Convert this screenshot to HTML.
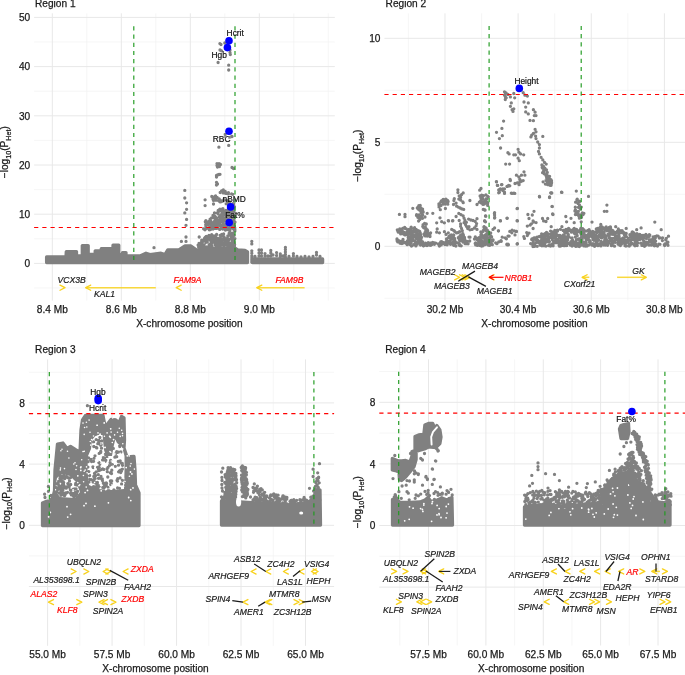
<!DOCTYPE html><html><head><meta charset="utf-8"><style>html,body{margin:0;padding:0;background:#fff;}svg{display:block;filter:grayscale(0.001)}.tk{font-family:"Liberation Sans", sans-serif;font-size:10.15px;fill:#1a1a1a;stroke:#1a1a1a;stroke-width:0.25px} .sub{font-size:7.2px} .g{font-family:"Liberation Sans", sans-serif;font-size:8.6px;font-style:italic;fill:#1a1a1a;stroke:#1a1a1a;stroke-width:0.2px} .gr{fill:#ff0000;stroke:#ff0000} .bl{font-family:"Liberation Sans", sans-serif;font-size:8.4px;fill:#111;stroke:#111;stroke-width:0.2px}</style></head><body><svg width="685" height="675" viewBox="0 0 685 675">
<line x1="34.1" x2="334.8" y1="288.00" y2="288.00" stroke="#f2f2f2" stroke-width="0.7"/>
<line x1="34.1" x2="334.8" y1="238.80" y2="238.80" stroke="#f2f2f2" stroke-width="0.7"/>
<line x1="34.1" x2="334.8" y1="189.60" y2="189.60" stroke="#f2f2f2" stroke-width="0.7"/>
<line x1="34.1" x2="334.8" y1="140.40" y2="140.40" stroke="#f2f2f2" stroke-width="0.7"/>
<line x1="34.1" x2="334.8" y1="91.20" y2="91.20" stroke="#f2f2f2" stroke-width="0.7"/>
<line x1="34.1" x2="334.8" y1="42.00" y2="42.00" stroke="#f2f2f2" stroke-width="0.7"/>
<line x1="86.80" x2="86.80" y1="13.3" y2="300.6" stroke="#f2f2f2" stroke-width="0.7"/>
<line x1="155.80" x2="155.80" y1="13.3" y2="300.6" stroke="#f2f2f2" stroke-width="0.7"/>
<line x1="224.80" x2="224.80" y1="13.3" y2="300.6" stroke="#f2f2f2" stroke-width="0.7"/>
<line x1="293.80" x2="293.80" y1="13.3" y2="300.6" stroke="#f2f2f2" stroke-width="0.7"/>
<line x1="328.30" x2="328.30" y1="13.3" y2="300.6" stroke="#f2f2f2" stroke-width="0.7"/>
<line x1="34.1" x2="334.8" y1="263.40" y2="263.40" stroke="#e8e8e8" stroke-width="1"/>
<line x1="34.1" x2="334.8" y1="214.20" y2="214.20" stroke="#e8e8e8" stroke-width="1"/>
<line x1="34.1" x2="334.8" y1="165.00" y2="165.00" stroke="#e8e8e8" stroke-width="1"/>
<line x1="34.1" x2="334.8" y1="115.80" y2="115.80" stroke="#e8e8e8" stroke-width="1"/>
<line x1="34.1" x2="334.8" y1="66.60" y2="66.60" stroke="#e8e8e8" stroke-width="1"/>
<line x1="34.1" x2="334.8" y1="17.40" y2="17.40" stroke="#e8e8e8" stroke-width="1"/>
<line x1="52.30" x2="52.30" y1="13.3" y2="300.6" stroke="#e8e8e8" stroke-width="1"/>
<line x1="121.30" x2="121.30" y1="13.3" y2="300.6" stroke="#e8e8e8" stroke-width="1"/>
<line x1="190.30" x2="190.30" y1="13.3" y2="300.6" stroke="#e8e8e8" stroke-width="1"/>
<line x1="259.30" x2="259.30" y1="13.3" y2="300.6" stroke="#e8e8e8" stroke-width="1"/>
<line x1="384.4" x2="685.5" y1="298.30" y2="298.30" stroke="#f2f2f2" stroke-width="0.7"/>
<line x1="384.4" x2="685.5" y1="194.30" y2="194.30" stroke="#f2f2f2" stroke-width="0.7"/>
<line x1="384.4" x2="685.5" y1="90.30" y2="90.30" stroke="#f2f2f2" stroke-width="0.7"/>
<line x1="408.40" x2="408.40" y1="13.3" y2="300.4" stroke="#f2f2f2" stroke-width="0.7"/>
<line x1="481.54" x2="481.54" y1="13.3" y2="300.4" stroke="#f2f2f2" stroke-width="0.7"/>
<line x1="554.68" x2="554.68" y1="13.3" y2="300.4" stroke="#f2f2f2" stroke-width="0.7"/>
<line x1="627.82" x2="627.82" y1="13.3" y2="300.4" stroke="#f2f2f2" stroke-width="0.7"/>
<line x1="384.4" x2="685.5" y1="246.30" y2="246.30" stroke="#e8e8e8" stroke-width="1"/>
<line x1="384.4" x2="685.5" y1="142.30" y2="142.30" stroke="#e8e8e8" stroke-width="1"/>
<line x1="384.4" x2="685.5" y1="38.30" y2="38.30" stroke="#e8e8e8" stroke-width="1"/>
<line x1="444.97" x2="444.97" y1="13.3" y2="300.4" stroke="#e8e8e8" stroke-width="1"/>
<line x1="518.11" x2="518.11" y1="13.3" y2="300.4" stroke="#e8e8e8" stroke-width="1"/>
<line x1="591.25" x2="591.25" y1="13.3" y2="300.4" stroke="#e8e8e8" stroke-width="1"/>
<line x1="664.39" x2="664.39" y1="13.3" y2="300.4" stroke="#e8e8e8" stroke-width="1"/>
<line x1="28.9" x2="334.1" y1="555.90" y2="555.90" stroke="#f2f2f2" stroke-width="0.7"/>
<line x1="28.9" x2="334.1" y1="494.70" y2="494.70" stroke="#f2f2f2" stroke-width="0.7"/>
<line x1="28.9" x2="334.1" y1="433.50" y2="433.50" stroke="#f2f2f2" stroke-width="0.7"/>
<line x1="28.9" x2="334.1" y1="372.30" y2="372.30" stroke="#f2f2f2" stroke-width="0.7"/>
<line x1="79.84" x2="79.84" y1="359.4" y2="645.8" stroke="#f2f2f2" stroke-width="0.7"/>
<line x1="144.31" x2="144.31" y1="359.4" y2="645.8" stroke="#f2f2f2" stroke-width="0.7"/>
<line x1="208.79" x2="208.79" y1="359.4" y2="645.8" stroke="#f2f2f2" stroke-width="0.7"/>
<line x1="273.26" x2="273.26" y1="359.4" y2="645.8" stroke="#f2f2f2" stroke-width="0.7"/>
<line x1="28.9" x2="334.1" y1="586.50" y2="586.50" stroke="#e8e8e8" stroke-width="1"/>
<line x1="28.9" x2="334.1" y1="525.30" y2="525.30" stroke="#e8e8e8" stroke-width="1"/>
<line x1="28.9" x2="334.1" y1="464.10" y2="464.10" stroke="#e8e8e8" stroke-width="1"/>
<line x1="28.9" x2="334.1" y1="402.90" y2="402.90" stroke="#e8e8e8" stroke-width="1"/>
<line x1="47.60" x2="47.60" y1="359.4" y2="645.8" stroke="#e8e8e8" stroke-width="1"/>
<line x1="112.07" x2="112.07" y1="359.4" y2="645.8" stroke="#e8e8e8" stroke-width="1"/>
<line x1="176.55" x2="176.55" y1="359.4" y2="645.8" stroke="#e8e8e8" stroke-width="1"/>
<line x1="241.02" x2="241.02" y1="359.4" y2="645.8" stroke="#e8e8e8" stroke-width="1"/>
<line x1="305.50" x2="305.50" y1="359.4" y2="645.8" stroke="#e8e8e8" stroke-width="1"/>
<line x1="379.3" x2="685.5" y1="556.30" y2="556.30" stroke="#f2f2f2" stroke-width="0.7"/>
<line x1="379.3" x2="685.5" y1="494.70" y2="494.70" stroke="#f2f2f2" stroke-width="0.7"/>
<line x1="379.3" x2="685.5" y1="433.10" y2="433.10" stroke="#f2f2f2" stroke-width="0.7"/>
<line x1="379.3" x2="685.5" y1="371.50" y2="371.50" stroke="#f2f2f2" stroke-width="0.7"/>
<line x1="399.81" x2="399.81" y1="359.4" y2="645.5" stroke="#f2f2f2" stroke-width="0.7"/>
<line x1="457.19" x2="457.19" y1="359.4" y2="645.5" stroke="#f2f2f2" stroke-width="0.7"/>
<line x1="514.56" x2="514.56" y1="359.4" y2="645.5" stroke="#f2f2f2" stroke-width="0.7"/>
<line x1="571.94" x2="571.94" y1="359.4" y2="645.5" stroke="#f2f2f2" stroke-width="0.7"/>
<line x1="629.31" x2="629.31" y1="359.4" y2="645.5" stroke="#f2f2f2" stroke-width="0.7"/>
<line x1="379.3" x2="685.5" y1="587.10" y2="587.10" stroke="#e8e8e8" stroke-width="1"/>
<line x1="379.3" x2="685.5" y1="525.50" y2="525.50" stroke="#e8e8e8" stroke-width="1"/>
<line x1="379.3" x2="685.5" y1="463.90" y2="463.90" stroke="#e8e8e8" stroke-width="1"/>
<line x1="379.3" x2="685.5" y1="402.30" y2="402.30" stroke="#e8e8e8" stroke-width="1"/>
<line x1="428.50" x2="428.50" y1="359.4" y2="645.5" stroke="#e8e8e8" stroke-width="1"/>
<line x1="485.88" x2="485.88" y1="359.4" y2="645.5" stroke="#e8e8e8" stroke-width="1"/>
<line x1="543.25" x2="543.25" y1="359.4" y2="645.5" stroke="#e8e8e8" stroke-width="1"/>
<line x1="600.62" x2="600.62" y1="359.4" y2="645.5" stroke="#e8e8e8" stroke-width="1"/>
<line x1="658.00" x2="658.00" y1="359.4" y2="645.5" stroke="#e8e8e8" stroke-width="1"/>
<polygon points="46.6,257.0 66.0,257.0 66.3,251.6 76.5,251.6 76.5,256.0 82.3,256.0 82.3,245.6 88.2,245.6 88.2,254.4 95.2,254.4 95.2,250.8 99.9,250.8 99.9,254.0 101.3,254.0 101.3,248.6 113.0,248.6 113.0,245.2 118.8,245.2 118.8,254.6 122.5,254.6 122.5,252.6 126.0,252.6 126.0,256.0 140.0,256.0 146.0,253.2 150.0,254.6 161.0,253.2 165.0,254.6 167.8,249.8 178.8,249.8 185.0,246.0 191.0,246.0 196.3,249.8 202.0,250.0 200.0,249.0 235.0,248.0 238.0,250.0 245.0,250.5 247.5,252.0 247.5,262.6 247.5,262.6 46.6,262.6" fill="#808080" stroke="#808080" stroke-width="3.30" stroke-linejoin="round"/><polygon points="252.5,259.0 322.6,259.0 322.6,262.6 252.5,262.6" fill="#808080" stroke="#808080" stroke-width="3.30" stroke-linejoin="round"/><path d="M259.0 250.0h0M259.0 253.0h0M259.0 256.0h0M261.5 250.0h0M261.5 253.0h0M261.5 256.0h0M265.0 253.6h0M265.0 256.0h0M270.8 250.5h0M270.8 253.0h0M270.8 256.0h0M276.6 252.6h0M276.6 255.5h0M280.3 254.0h0M280.3 256.5h0M285.4 247.3h0M285.4 249.5h0M285.4 252.0h0M285.4 254.5h0M285.4 257.0h0M293.4 253.6h0M293.4 256.0h0M316.5 252.4h0M316.5 255.0h0M251.8 241.3h0M251.8 243.9h0M251.8 250.8h0M251.8 253.2h0M251.8 256.0h0M251.8 258.0h0M251.8 260.0h0M251.8 262.0h0M255.0 256.5h0M268.0 256.0h0M273.0 255.0h0M283.0 256.0h0M289.0 256.5h0M297.0 256.5h0M301.0 257.0h0M305.0 256.5h0M309.0 257.0h0M313.0 256.5h0M320.0 256.5h0" stroke="#808080" stroke-width="3.30" stroke-linecap="round" fill="none"/><path d="M217.5 220.0h0M232.6 217.6h0M219.3 220.7h0M223.2 225.8h0M205.9 226.2h0M234.4 230.1h0M223.9 221.4h0M217.1 227.1h0M219.6 222.0h0M219.0 222.6h0M217.6 213.0h0M234.9 230.9h0M229.9 223.7h0M227.5 216.0h0M230.1 215.7h0M233.7 227.2h0M232.1 217.7h0M234.4 215.9h0M205.3 221.7h0M227.9 212.7h0M233.9 225.0h0M228.5 210.4h0M220.9 217.2h0M209.1 224.3h0M207.2 222.1h0M234.1 226.1h0M212.7 228.1h0M230.3 222.0h0M227.7 214.2h0M205.9 220.6h0M210.8 221.0h0M214.9 217.3h0M233.7 218.1h0M221.4 227.7h0M232.1 226.4h0M226.7 229.5h0M209.3 229.8h0M231.2 221.1h0M210.6 223.6h0M211.2 226.6h0M222.1 213.3h0M208.6 224.0h0M220.9 227.3h0M222.7 213.0h0M232.4 211.1h0M221.3 209.3h0M214.6 228.3h0M234.4 222.4h0M225.1 220.6h0M203.6 228.8h0M225.4 230.1h0M218.4 224.3h0M226.6 228.5h0M226.6 223.6h0M228.4 228.9h0M214.3 223.1h0M231.8 227.8h0M216.3 225.8h0M230.6 220.3h0M223.0 215.6h0M221.6 221.2h0M205.6 222.0h0M234.8 228.0h0M226.3 215.7h0M226.5 220.5h0M217.1 227.0h0M205.7 224.8h0M218.4 211.8h0M225.3 218.4h0M222.7 229.0h0M212.6 223.0h0M232.0 222.5h0M217.1 228.3h0M213.5 222.6h0M228.8 228.9h0M231.2 215.6h0M221.7 213.9h0M229.8 227.2h0M225.8 229.8h0M217.4 212.9h0M223.0 218.3h0M213.1 227.0h0M234.4 217.3h0M230.9 207.0h0M225.7 220.3h0M212.9 225.8h0M229.5 211.9h0M223.1 217.2h0M223.2 222.4h0M228.8 230.0h0M224.9 211.0h0M218.2 210.5h0M225.9 210.5h0M225.3 219.0h0M222.7 224.9h0M215.6 225.8h0M232.0 208.2h0M232.8 224.1h0M223.0 228.7h0M215.1 220.2h0M231.1 225.9h0M233.2 217.6h0M223.8 211.1h0M226.1 226.5h0M223.5 223.9h0M209.8 228.5h0M234.4 230.4h0M220.2 225.8h0M213.3 228.7h0M230.4 214.7h0M220.6 225.2h0M228.9 207.6h0M228.6 210.3h0M213.7 225.7h0M219.5 224.1h0M229.9 223.2h0M233.3 218.3h0M233.4 208.2h0M210.1 219.2h0M212.3 224.2h0M223.4 219.1h0M230.0 220.0h0M213.0 215.5h0M230.0 228.5h0M209.7 227.3h0M234.0 219.1h0M221.3 211.0h0M220.1 218.6h0M234.0 218.9h0M215.8 226.0h0M221.0 218.3h0M220.2 216.3h0M233.6 229.1h0M211.6 217.8h0M229.1 228.5h0M218.2 213.9h0M209.1 221.4h0M232.6 209.2h0M225.0 214.1h0M214.4 221.5h0M206.4 224.3h0M220.0 216.9h0M215.0 216.3h0M219.9 210.0h0M209.5 221.8h0M223.4 219.2h0M230.2 221.3h0M230.4 211.8h0M226.7 226.3h0M231.9 213.9h0M213.1 229.1h0M231.4 209.3h0M210.7 224.2h0M229.6 216.5h0M228.3 209.2h0M215.9 223.1h0M224.8 228.8h0M234.0 208.9h0M219.2 225.0h0M219.1 223.1h0M220.7 218.9h0M221.2 209.7h0M229.9 230.8h0M232.7 208.4h0M205.0 229.8h0M217.8 225.1h0M213.5 217.7h0M219.5 216.8h0M225.4 227.1h0M226.7 216.1h0M231.6 226.0h0M225.5 227.5h0M223.1 216.1h0M222.2 218.6h0M234.4 226.1h0M211.3 228.8h0M226.8 225.4h0M229.1 216.1h0M231.7 228.0h0M225.2 225.2h0M227.5 216.1h0M213.9 217.7h0M223.4 221.6h0M210.4 229.6h0M224.3 214.4h0M224.1 220.2h0M220.1 215.7h0M235.0 222.1h0M225.4 225.0h0M234.4 206.6h0M222.7 224.5h0M211.0 228.6h0M220.6 218.7h0M233.9 220.2h0M234.8 222.0h0M228.9 207.9h0M222.1 225.0h0M204.4 229.3h0M233.2 216.5h0M219.9 220.9h0M214.7 213.1h0M224.0 220.0h0M212.1 223.9h0M208.0 224.9h0M215.5 228.4h0M234.6 229.6h0M205.4 228.6h0M216.7 217.9h0M234.1 212.1h0M219.7 229.4h0M226.1 217.7h0M234.3 226.4h0M222.3 208.9h0M223.0 217.4h0M219.9 209.1h0M217.2 222.7h0M217.6 212.6h0M221.6 216.5h0M227.9 219.3h0M234.9 229.8h0M226.5 212.0h0M206.6 228.3h0M228.1 221.6h0M214.5 212.8h0M224.9 220.1h0M221.9 221.8h0M227.1 210.7h0M232.3 228.0h0M222.9 208.6h0M205.8 222.9h0M220.6 221.8h0M214.9 218.0h0M226.8 227.0h0M228.9 221.6h0M227.6 211.3h0" stroke="#808080" stroke-width="3.30" stroke-linecap="round" fill="none"/><path d="M215.3 244.2h0M222.5 235.4h0M207.8 246.8h0M223.4 243.2h0M218.4 244.2h0M202.9 240.5h0M203.6 248.4h0M199.7 246.9h0M200.3 244.7h0M210.1 239.9h0M229.1 233.3h0M199.8 248.6h0M216.6 234.5h0M234.5 249.1h0M201.7 240.2h0M220.8 235.8h0M223.6 233.9h0M203.9 246.9h0M212.5 240.1h0M219.8 241.1h0M224.7 249.4h0M234.1 244.3h0M210.9 239.2h0M223.4 244.5h0M211.1 241.7h0M227.9 241.5h0M198.6 247.0h0M213.6 241.8h0M205.8 240.3h0M212.1 246.1h0M201.3 242.3h0M204.2 244.8h0M210.4 243.8h0M205.3 237.8h0M215.4 249.3h0M215.5 249.3h0M203.8 248.7h0M211.2 236.2h0M225.6 248.5h0M226.4 238.8h0M199.0 243.5h0M234.4 250.0h0M209.6 246.4h0M228.7 243.9h0M206.1 242.0h0M215.4 243.7h0M207.4 249.1h0M231.0 235.8h0M208.4 247.8h0M207.9 249.0h0M216.8 244.8h0M223.9 236.6h0M208.2 237.3h0M223.1 244.8h0M202.4 248.1h0M213.3 237.1h0M213.8 249.7h0M218.5 243.6h0M232.0 249.4h0M226.0 240.1h0M219.6 248.3h0M227.1 242.9h0M210.5 239.3h0M225.1 242.6h0M198.1 245.1h0M231.4 246.6h0M231.2 248.5h0M217.6 246.4h0M211.7 234.7h0M210.7 238.3h0M232.5 244.7h0M217.8 243.6h0M202.2 242.1h0M223.8 239.7h0M206.7 239.9h0M209.6 244.6h0M209.2 244.8h0M226.0 244.2h0M232.6 239.2h0M214.1 236.0h0M222.5 238.8h0M206.4 238.6h0M232.9 233.1h0M211.0 237.8h0M205.1 240.4h0M205.8 248.6h0M216.3 244.9h0M203.6 240.9h0M220.2 247.3h0M206.9 240.8h0M229.6 247.1h0M206.0 242.1h0M226.0 239.7h0M222.8 244.3h0M234.0 242.4h0M223.0 239.0h0M225.0 238.5h0M216.2 239.1h0M209.0 235.3h0M206.0 242.3h0M227.6 237.9h0M232.6 243.2h0M212.1 247.8h0M231.1 238.5h0M202.2 243.9h0M229.1 243.3h0M226.9 240.0h0M220.7 237.5h0M212.8 239.5h0M211.9 239.8h0M227.8 235.9h0M205.2 237.3h0M233.9 241.9h0M199.5 247.2h0M230.3 247.0h0M211.0 245.5h0M209.0 235.3h0M229.9 247.2h0M205.4 248.0h0M203.6 245.2h0M208.6 236.2h0M204.4 238.3h0M229.8 243.3h0M201.3 244.6h0M217.6 240.6h0M217.3 244.1h0M227.5 241.6h0M221.3 240.9h0M221.3 239.6h0M213.1 241.8h0M224.3 237.7h0M232.2 241.4h0M229.6 244.7h0M233.4 244.6h0M213.5 239.9h0M220.3 245.8h0M229.0 235.2h0M201.7 244.6h0M220.6 249.4h0M233.5 245.7h0M233.1 233.5h0M206.0 248.7h0M215.3 236.5h0M225.9 240.2h0M217.9 238.4h0M220.3 249.2h0M234.5 246.0h0M232.5 239.2h0M208.7 248.7h0M220.0 244.4h0M215.6 245.4h0M228.5 245.9h0M210.2 239.5h0M229.8 249.8h0M215.7 236.3h0M220.9 242.1h0M211.1 236.9h0M212.0 243.4h0M202.3 242.2h0M233.2 245.7h0M207.0 240.1h0M201.3 245.5h0M221.2 235.9h0M218.1 243.1h0M219.1 239.4h0M209.1 239.0h0M234.9 238.6h0M216.3 240.8h0M204.0 239.8h0M205.2 238.5h0M211.3 238.9h0M232.7 238.0h0M210.0 244.2h0M212.4 241.8h0M221.8 234.3h0M222.7 234.7h0M206.9 246.8h0M234.6 244.5h0M203.9 240.5h0M208.1 247.3h0M206.2 236.3h0M221.4 243.8h0M219.6 241.1h0M233.5 240.8h0M232.6 239.7h0M215.0 239.1h0M224.3 245.8h0M206.5 241.9h0M224.7 241.5h0M222.3 243.5h0M224.3 239.0h0M230.9 246.4h0M212.1 249.4h0M231.3 235.6h0M228.9 240.2h0M209.3 237.4h0M209.0 235.7h0M202.1 247.1h0M211.7 241.3h0M220.0 248.9h0M229.8 248.5h0M232.4 242.0h0M211.3 236.2h0M231.6 246.0h0M218.2 246.5h0M207.3 242.1h0M231.5 234.8h0M220.7 236.2h0M228.9 247.3h0M221.7 240.4h0M211.0 239.8h0M200.4 248.6h0M217.1 242.5h0M229.1 248.2h0M218.1 242.2h0M229.3 239.3h0M231.3 233.4h0M227.4 242.0h0M220.8 249.8h0M205.7 239.9h0M227.5 245.7h0M217.2 246.2h0M222.9 247.8h0M221.9 239.2h0M234.1 235.4h0M220.1 235.3h0" stroke="#808080" stroke-width="3.30" stroke-linecap="round" fill="none"/><path d="M226.2 203.8h0M232.6 206.7h0M213.5 200.4h0M227.2 200.6h0M221.6 201.5h0M223.0 200.6h0M219.8 201.3h0M217.1 197.3h0M224.2 199.8h0M229.6 202.7h0M233.8 203.8h0M232.3 205.6h0M218.4 200.4h0M233.5 203.8h0M219.2 198.8h0M213.7 199.0h0M213.6 197.2h0M220.2 200.1h0M219.3 201.2h0M215.6 196.0h0M229.0 200.8h0M228.4 203.9h0M211.8 196.5h0M231.2 206.0h0M232.9 203.7h0M220.2 201.9h0M215.9 200.2h0M228.8 206.2h0M214.3 199.2h0M230.9 206.5h0M223.3 200.9h0M215.3 197.5h0M228.3 201.1h0M215.4 198.5h0M220.3 201.3h0M229.4 203.4h0M215.4 196.1h0M223.9 199.6h0M229.0 203.8h0M227.6 203.2h0M221.6 190.8h0M225.9 193.4h0M231.6 193.9h0M228.4 192.6h0M223.5 191.8h0M232.8 194.3h0M225.2 191.3h0M223.1 192.9h0M224.3 192.9h0M228.4 193.9h0M224.1 191.4h0M225.9 193.0h0M223.7 192.3h0M225.6 192.9h0" stroke="#808080" stroke-width="3.30" stroke-linecap="round" fill="none"/><path d="M184.8 190.4h0M184.8 198.0h0M186.6 202.8h0M186.6 209.3h0M184.8 212.9h0M186.6 219.4h0M186.0 225.3h0M186.0 237.0h0M186.0 241.4h0M154.0 247.7h0M199.2 237.0h0M181.4 241.4h0M205.1 199.8h0M205.1 205.6h0M213.0 199.0h0M213.5 204.0h0M223.3 190.0h0M224.5 191.5h0M220.2 192.5h0M217.0 163.6h0M219.0 163.6h0M220.4 164.5h0M217.0 165.5h0M219.5 166.5h0M217.5 167.0h0M216.5 177.0h0M217.5 175.0h0M219.0 174.5h0M220.0 174.3h0M216.5 175.5h0M216.5 182.3h0M217.5 184.0h0M216.5 185.0h0M232.0 167.5h0M233.5 168.5h0M219.9 43.6h0M221.0 44.5h0M224.8 43.0h0M220.0 50.0h0M221.5 50.8h0M230.0 50.0h0M230.0 52.6h0M230.3 54.5h0M218.1 62.5h0M228.7 65.2h0M228.7 70.0h0M218.9 147.2h0M228.7 145.4h0M225.2 134.3h0M231.9 136.5h0" stroke="#808080" stroke-width="3.30" stroke-linecap="round" fill="none"/>
<path d="M401.2 241.3h0M397.2 241.0h0M444.4 243.9h0M426.6 244.3h0M425.4 245.1h0M432.7 242.3h0M444.4 243.7h0M401.9 243.5h0M445.0 244.5h0M403.0 243.1h0M430.7 245.3h0M422.9 244.0h0M423.4 245.8h0M397.8 241.9h0M409.1 243.1h0M445.6 242.4h0M434.4 243.0h0M420.5 245.1h0M429.2 244.5h0M442.9 242.4h0M397.2 240.5h0M446.6 241.9h0M407.2 244.7h0M452.8 242.0h0M459.2 245.0h0M416.2 243.8h0M400.1 243.2h0M459.3 243.7h0M434.8 243.5h0M412.1 245.7h0M430.6 243.2h0M447.1 243.9h0M450.4 242.7h0M405.4 242.7h0M431.6 244.0h0M427.0 245.5h0M441.5 241.6h0M441.3 243.7h0M403.4 242.4h0M398.7 240.6h0M431.8 244.6h0M397.9 241.1h0M440.5 244.3h0M440.7 242.0h0M400.8 241.4h0M401.0 242.5h0M406.5 243.0h0M425.5 243.1h0M404.1 242.1h0M453.9 245.4h0M439.2 244.2h0M451.5 243.9h0M421.3 244.0h0M453.7 244.1h0M434.4 244.3h0M438.2 244.0h0M421.6 243.9h0M435.7 243.1h0M423.2 245.0h0M430.0 243.2h0M441.2 244.9h0M426.7 244.8h0M453.2 242.8h0M406.4 243.5h0M450.5 244.3h0M417.3 244.2h0M445.4 243.0h0M454.7 244.0h0M415.9 245.9h0M459.6 244.7h0M421.3 243.1h0M439.8 245.0h0M429.4 245.1h0M411.5 246.0h0M401.4 241.7h0M428.2 242.6h0M442.6 243.3h0" stroke="#808080" stroke-width="3.30" stroke-linecap="round" fill="none"/><path d="M413.8 232.2h0M406.0 228.6h0M411.9 234.8h0M406.4 233.8h0M397.8 231.2h0M401.4 231.0h0M410.4 233.8h0M408.5 234.0h0M404.2 228.0h0M407.2 232.7h0M402.5 229.0h0M407.4 233.9h0M416.8 234.0h0M402.7 228.4h0M399.8 228.8h0M411.3 228.5h0M403.4 233.9h0M404.7 227.5h0M401.3 230.1h0M408.5 231.6h0M404.7 228.3h0M409.2 229.8h0M404.6 234.8h0M418.1 234.8h0M405.6 234.8h0M400.7 233.9h0M411.9 234.7h0M403.7 232.2h0M401.1 231.5h0M397.3 229.8h0M411.3 230.7h0M399.2 231.5h0M398.4 232.2h0M418.1 231.0h0M412.0 233.3h0M401.5 230.7h0M397.8 231.3h0M413.6 231.0h0M414.3 228.9h0M411.7 230.8h0M407.0 232.0h0M402.2 231.4h0" stroke="#808080" stroke-width="3.30" stroke-linecap="round" fill="none"/><path d="M420.8 207.8h0M422.2 214.7h0M422.6 215.0h0M421.8 218.0h0M418.8 205.7h0M418.8 208.7h0M419.1 207.6h0M422.0 209.4h0M416.6 214.7h0M418.1 207.2h0M419.0 214.8h0M419.8 219.6h0M416.5 215.4h0M422.6 209.1h0M419.5 210.1h0M418.6 221.0h0M417.8 217.3h0M418.1 209.1h0M422.2 213.1h0M419.4 216.8h0M421.1 212.6h0M421.7 216.5h0M420.7 211.0h0M422.7 210.9h0M423.2 211.9h0M422.5 218.3h0M423.0 212.4h0M417.3 207.9h0M420.3 216.1h0M420.5 208.3h0M420.2 205.4h0" stroke="#808080" stroke-width="3.30" stroke-linecap="round" fill="none"/><path d="M424.6 223.3h0M426.3 224.0h0M425.3 227.0h0M429.9 234.9h0M422.8 226.4h0M423.1 224.6h0M423.7 227.7h0M423.9 234.1h0M425.7 232.9h0M426.1 228.7h0M424.6 235.5h0M425.8 228.6h0M425.2 235.9h0M428.5 233.7h0M427.1 229.6h0M430.0 236.6h0M424.6 234.1h0M424.3 228.1h0M427.5 235.2h0M425.8 230.7h0M427.3 236.1h0M427.5 231.2h0M425.1 232.3h0M427.6 230.5h0" stroke="#808080" stroke-width="3.30" stroke-linecap="round" fill="none"/><path d="M443.4 204.0h0M446.3 200.7h0M447.8 204.2h0M439.0 206.9h0M440.3 209.7h0M444.8 200.4h0M447.6 201.9h0M441.0 205.5h0M440.8 202.0h0M439.0 205.3h0M446.5 201.7h0M443.4 202.4h0M447.5 200.5h0M444.8 199.8h0M447.5 202.3h0M443.2 199.3h0M441.4 200.9h0M438.9 204.0h0M442.7 201.1h0" stroke="#808080" stroke-width="3.30" stroke-linecap="round" fill="none"/><path d="M399.4 214.4h0M405.0 214.4h0M405.0 216.7h0M412.8 208.3h0M432.8 213.3h0M425.0 217.0h0M427.2 213.3h0M440.0 217.8h0M441.7 221.7h0M444.4 222.8h0M436.7 222.8h0M448.3 220.6h0M452.8 220.6h0M437.2 228.9h0M436.7 232.2h0M439.4 232.8h0M444.4 231.7h0M446.1 234.4h0M430.6 232.8h0M439.4 246.1h0M397.0 238.9h0M401.0 243.0h0M403.0 239.5h0" stroke="#808080" stroke-width="3.30" stroke-linecap="round" fill="none"/><path d="M457.9 189.8h0M457.9 192.5h0M463.2 192.9h0M461.5 194.7h0M459.2 196.0h0M460.6 197.3h0M458.8 199.1h0M460.6 200.0h0M462.8 201.8h0M463.2 202.7h0M454.3 198.7h0M453.9 200.5h0M453.5 204.5h0M456.1 203.1h0M456.6 206.2h0M458.3 207.1h0M460.1 208.0h0M461.9 208.9h0M463.7 209.4h0M469.9 200.5h0M445.9 199.1h0M448.1 201.4h0M445.4 204.0h0M445.4 208.5h0M458.8 213.4h0M461.0 214.7h0M463.2 216.0h0M456.1 216.5h0M464.1 218.3h0M465.0 220.5h0M466.4 222.3h0M468.6 219.1h0M470.8 220.0h0M473.0 220.5h0M475.2 221.4h0M477.0 218.7h0M476.6 223.6h0M476.1 225.8h0M474.4 228.0h0M472.1 229.4h0M469.9 229.8h0M467.7 228.5h0M466.4 226.3h0M465.5 224.5h0M469.0 226.7h0M477.0 229.4h0M464.1 222.7h0M459.2 220.5h0M460.6 224.0h0M460.6 226.3h0M461.5 228.5h0M462.3 230.7h0M462.8 233.4h0M463.2 235.6h0M459.7 231.6h0M458.3 232.5h0M456.6 232.9h0M454.8 231.6h0M451.7 229.4h0M453.5 230.3h0M448.6 220.9h0M452.6 220.9h0M456.1 216.3h0M481.0 188.5h0M479.7 190.2h0M480.1 196.0h0M481.5 197.8h0M482.4 199.1h0M480.6 200.9h0M479.3 202.2h0M477.0 204.5h0M483.3 202.2h0M485.5 200.5h0M486.8 199.1h0M487.7 203.1h0M487.7 205.4h0M483.3 209.4h0M485.0 210.2h0M485.5 216.0h0M484.6 220.9h0M485.5 221.8h0M484.1 227.2h0M484.1 229.4h0M485.9 228.0h0M494.4 213.4h0M494.7 217.4h0M500.4 220.7h0M507.1 218.1h0M517.1 208.7h0M517.1 220.7h0M493.0 229.4h0M498.4 230.8h0M495.7 242.8h0M501.1 241.4h0M506.4 238.8h0M509.1 236.1h0M511.8 232.8h0M514.4 230.8h0M516.4 231.4h0M507.1 244.8h0M508.4 244.8h0M517.1 244.1h0M451.7 229.4h0M454.3 230.8h0M447.7 241.4h0M448.3 232.8h0" stroke="#808080" stroke-width="3.30" stroke-linecap="round" fill="none"/><path d="M484.0 202.3h0M484.4 201.5h0M485.9 198.9h0M485.6 201.8h0M480.9 202.0h0M484.2 203.0h0M485.8 201.6h0M484.3 203.9h0M481.2 197.4h0M484.6 201.7h0M486.7 202.1h0M483.8 203.7h0M480.9 198.1h0M486.9 202.1h0" stroke="#808080" stroke-width="3.30" stroke-linecap="round" fill="none"/><path d="M481.3 245.2h0M484.1 236.5h0M475.2 243.5h0M491.5 240.3h0M485.5 236.2h0M476.0 237.9h0M475.6 243.0h0M477.2 239.7h0M475.3 236.9h0M480.3 240.2h0M479.5 240.6h0M484.8 236.5h0M484.1 235.9h0M485.7 243.4h0M490.6 244.1h0M484.6 244.8h0M486.5 241.8h0M478.8 244.3h0M490.0 243.5h0M482.8 236.9h0M480.9 244.8h0M478.5 244.1h0M485.0 240.5h0M478.9 237.7h0M478.7 243.4h0M475.0 238.8h0M485.7 237.7h0M477.4 245.4h0M479.7 245.3h0M484.2 242.4h0M481.1 240.6h0M481.7 243.5h0M476.3 239.0h0M485.8 244.3h0M475.7 244.9h0M476.2 238.1h0M481.1 236.9h0M480.7 239.8h0M484.6 244.0h0M474.5 239.0h0M490.8 235.9h0M479.6 240.9h0M487.1 240.7h0M477.8 243.7h0M487.1 236.2h0M480.9 235.2h0M490.8 243.3h0M485.2 240.0h0M475.3 238.1h0M478.5 241.0h0M487.3 241.6h0" stroke="#808080" stroke-width="3.30" stroke-linecap="round" fill="none"/><path d="M449.7 236.6h0M446.5 239.0h0M458.3 237.7h0M454.3 240.3h0M451.2 238.0h0M459.2 239.6h0M465.1 243.7h0M462.3 240.9h0M453.1 243.1h0M463.6 237.8h0M451.0 239.4h0M454.1 238.2h0M454.6 238.5h0M446.7 240.2h0M462.9 242.1h0M469.0 237.1h0M460.7 234.9h0M449.4 241.4h0M450.5 235.5h0M465.4 241.2h0M461.8 240.0h0M467.0 241.4h0M455.9 246.0h0M459.1 237.0h0M453.5 244.5h0M464.1 240.0h0M461.1 237.8h0M451.3 234.8h0M462.4 239.9h0M466.5 242.1h0M455.8 242.4h0M453.1 239.0h0M463.8 240.5h0M465.2 241.5h0M447.1 244.8h0M454.1 239.2h0M447.8 242.8h0M453.7 235.5h0M470.0 237.2h0M451.6 238.8h0M455.0 242.5h0M464.5 237.4h0M454.9 240.3h0M466.4 242.5h0M447.4 242.8h0M451.2 235.3h0M453.1 237.2h0M466.7 243.7h0M448.3 237.8h0M459.4 237.2h0M469.7 241.0h0M452.0 235.5h0M459.9 240.8h0M464.8 239.4h0M460.1 245.7h0M449.0 236.5h0M460.7 235.5h0M463.3 235.1h0M453.6 243.3h0M461.2 245.8h0M459.7 236.9h0M449.2 237.2h0M457.6 242.8h0M453.6 234.8h0M446.7 241.6h0M468.1 243.8h0" stroke="#808080" stroke-width="3.30" stroke-linecap="round" fill="none"/><path d="M406.9 232.1h0M412.1 239.6h0M420.4 238.1h0M407.3 242.0h0M420.7 235.0h0M407.9 235.1h0M416.6 234.5h0M412.8 239.0h0M420.5 235.8h0M411.2 227.6h0M416.2 229.5h0M411.0 227.4h0M409.4 241.3h0M409.9 244.5h0M408.2 237.6h0M416.0 236.4h0M414.6 236.8h0M415.2 242.0h0M419.7 236.2h0M423.7 245.7h0M408.1 229.6h0M406.9 233.6h0M415.3 242.4h0M420.3 233.1h0M416.7 236.6h0M409.6 232.1h0M414.6 227.7h0M419.7 241.1h0M411.2 227.2h0M407.3 240.9h0M414.2 235.6h0M414.7 231.8h0M406.9 234.5h0M408.9 230.7h0M410.6 234.6h0M406.3 233.7h0M420.7 241.5h0M408.9 239.3h0M416.9 238.6h0M416.2 243.7h0M408.3 229.6h0M419.4 235.5h0M407.2 231.7h0M419.8 234.2h0M413.8 240.4h0M408.4 238.3h0M410.4 240.4h0M408.2 241.5h0M421.6 237.3h0M412.7 238.1h0M417.9 235.6h0M409.1 229.9h0M420.2 232.9h0M420.9 240.3h0M411.1 241.8h0M419.6 242.5h0M419.6 240.6h0M417.1 233.4h0M414.6 240.9h0M416.5 238.6h0M409.7 240.2h0M417.8 238.4h0M422.7 241.8h0M417.2 238.1h0M414.2 244.5h0M410.3 237.5h0M409.5 230.2h0M420.5 243.4h0M417.7 237.7h0M418.1 242.6h0M413.5 235.5h0M416.7 242.9h0M419.7 231.3h0M418.0 241.0h0M417.5 230.6h0M411.2 242.9h0M412.3 232.6h0M409.6 241.4h0M412.7 235.7h0M422.4 243.2h0M409.6 237.5h0M410.8 240.1h0M421.0 239.1h0M419.2 231.1h0M420.6 240.4h0" stroke="#808080" stroke-width="3.30" stroke-linecap="round" fill="none"/><path d="M504.5 91.8h0M504.5 95.2h0M506.2 97.8h0M507.9 94.4h0M510.4 96.9h0M513.8 93.5h0M514.7 97.8h0M505.3 99.5h0M511.3 102.9h0M510.4 106.3h0M512.1 109.7h0M513.8 108.8h0M513.0 111.4h0M506.0 93.0h0M505.5 97.0h0M523.2 92.7h0M524.9 95.2h0M527.4 96.1h0M524.0 102.0h0M528.3 102.9h0M525.7 107.1h0M525.7 111.9h0M528.3 113.9h0M530.0 120.4h0M533.4 109.7h0M535.1 112.2h0M534.3 115.6h0M533.4 120.7h0M536.0 115.6h0M503.6 121.1h0M501.9 128.4h0M496.5 132.3h0M502.3 135.7h0M499.4 138.6h0M500.6 148.0h0M507.9 152.7h0M509.1 153.9h0M513.8 154.8h0M515.5 154.8h0M518.1 149.3h0M518.9 152.2h0M520.6 153.9h0M523.7 154.8h0M518.1 158.2h0M519.3 160.7h0M505.7 164.1h0M509.6 164.1h0M516.4 175.2h0M518.9 176.9h0M521.5 175.2h0M524.0 171.8h0M524.9 175.2h0M519.8 179.5h0M517.2 182.9h0M521.5 181.2h0M510.1 179.5h0M496.5 181.7h0M497.7 185.4h0M501.9 184.6h0M507.0 186.3h0M508.7 185.4h0M500.2 188.8h0M502.8 188.8h0M499.4 192.2h0M504.5 192.2h0M511.3 193.1h0M513.8 193.1h0M535.1 129.3h0M536.0 131.8h0M533.4 133.5h0M531.7 135.2h0M530.9 136.9h0M535.6 136.1h0M542.8 136.4h0M536.0 138.6h0M537.7 142.0h0M539.4 144.6h0M539.4 148.0h0M538.5 151.4h0M539.4 153.9h0M541.1 157.3h0M542.8 159.9h0M544.5 162.4h0M546.2 164.1h0M541.9 165.0h0M551.3 193.1h0M549.6 197.0h0M539.4 196.5h0M561.5 192.2h0" stroke="#808080" stroke-width="3.30" stroke-linecap="round" fill="none"/><path d="M549.2 183.7h0M543.4 171.5h0M547.0 179.7h0M546.0 180.4h0M547.3 172.4h0M544.8 168.1h0M551.5 180.6h0M548.5 176.7h0M543.5 166.3h0M547.4 183.2h0M542.2 167.5h0M548.6 183.1h0M545.6 169.6h0M542.7 167.2h0M542.6 172.7h0M548.4 180.6h0M543.8 169.6h0M542.7 166.8h0M547.2 175.4h0M550.4 182.2h0M549.4 179.8h0M549.0 178.1h0M546.0 175.6h0M545.2 169.8h0M546.7 174.5h0M544.0 171.8h0M544.2 173.8h0M550.9 179.6h0M542.8 168.2h0M546.5 169.8h0M547.8 180.6h0M551.1 185.3h0M546.6 177.8h0M551.5 183.6h0M549.6 176.3h0M548.5 178.8h0M547.3 181.2h0M543.4 166.4h0M551.6 182.2h0M549.2 178.0h0M547.6 183.2h0M548.6 181.3h0" stroke="#808080" stroke-width="3.30" stroke-linecap="round" fill="none"/><path d="M496.4 181.8h0M497.3 185.3h0M501.6 184.7h0M498.7 189.9h0M500.4 189.3h0M502.8 190.5h0M504.5 188.8h0M498.7 192.8h0M504.5 193.4h0M507.4 186.4h0M509.8 185.8h0M512.1 193.4h0M514.8 193.4h0M510.4 180.6h0M515.0 183.5h0M518.5 182.9h0M520.3 181.8h0M523.2 180.6h0M519.1 184.7h0M543.1 181.8h0M545.4 184.1h0M547.7 184.7h0M550.1 185.3h0M550.7 192.8h0M539.6 196.9h0M549.5 197.5h0M552.2 206.6h0M553.0 214.5h0M484.7 209.8h0M485.8 216.2h0M484.7 220.9h0M484.1 226.7h0M484.7 229.0h0M494.6 212.7h0M494.6 215.0h0M494.6 218.0h0M500.4 220.9h0M507.1 218.3h0M517.4 208.3h0M517.4 220.9h0M494.6 227.9h0M498.5 230.8h0M509.8 231.4h0M512.1 230.2h0M516.2 231.4h0M515.0 234.9h0M508.0 236.1h0M505.1 237.8h0M502.2 237.2h0M501.0 240.7h0M498.7 241.9h0M496.9 243.7h0M506.9 244.2h0M508.0 244.2h0M517.4 243.7h0M527.9 214.5h0M532.3 215.0h0M534.0 211.3h0M529.0 218.5h0M533.1 220.9h0M533.7 222.0h0M536.1 222.6h0M531.4 223.8h0M530.2 225.0h0M527.3 226.1h0M533.1 228.5h0M542.5 218.5h0M543.6 220.9h0M546.0 221.5h0M547.7 218.5h0M551.2 226.7h0M526.7 232.6h0M527.9 234.3h0M529.0 233.1h0M527.3 235.5h0M523.8 236.6h0M524.4 238.4h0" stroke="#808080" stroke-width="3.30" stroke-linecap="round" fill="none"/><path d="M484.6 203.0h0M487.7 196.3h0M481.4 203.1h0M483.1 203.4h0M483.3 195.7h0M481.8 198.9h0M481.7 195.2h0M487.1 203.3h0M483.1 204.4h0M488.3 196.8h0M485.9 194.9h0M482.6 198.5h0M484.1 202.4h0" stroke="#808080" stroke-width="3.30" stroke-linecap="round" fill="none"/><path d="M483.9 242.1h0M480.8 242.4h0M483.6 238.2h0M489.5 245.4h0M488.9 234.2h0M482.5 245.9h0M484.2 243.5h0M487.8 230.7h0M485.5 234.8h0M488.6 232.1h0M487.5 237.9h0M483.5 243.1h0M486.8 242.9h0M492.6 241.0h0M489.1 240.4h0M482.2 241.1h0M493.1 240.0h0M489.3 242.7h0M488.2 245.1h0M490.4 237.5h0M488.9 234.5h0M487.6 239.6h0M486.0 228.5h0M480.5 237.6h0M487.3 234.3h0M482.4 245.3h0M486.4 231.1h0M490.2 242.2h0M486.3 234.5h0M481.3 245.8h0M483.3 236.4h0M485.9 243.4h0M490.8 240.6h0M481.4 233.9h0M482.6 236.7h0M491.6 236.9h0M492.3 244.7h0M486.1 236.5h0M483.0 231.4h0M489.2 242.6h0M484.5 229.1h0M484.4 229.4h0M481.9 235.2h0M486.7 236.7h0M490.7 232.9h0M490.6 243.2h0M490.3 236.7h0M486.2 239.4h0M488.1 232.2h0M489.8 241.2h0M489.6 240.5h0M489.4 234.3h0M481.6 246.0h0M480.8 231.9h0M483.7 230.1h0M487.8 239.2h0M486.7 237.5h0M480.4 245.5h0M482.7 243.8h0M486.3 241.7h0M487.6 241.4h0" stroke="#808080" stroke-width="3.30" stroke-linecap="round" fill="none"/><path d="M618.8 231.9h0M589.1 229.7h0M563.6 240.6h0M615.4 232.6h0M575.2 232.6h0M582.1 239.3h0M590.2 241.3h0M594.6 238.4h0M539.4 241.7h0M541.6 234.0h0M593.8 237.7h0M579.5 231.6h0M592.7 231.3h0M612.0 233.0h0M549.5 237.4h0M541.6 242.5h0M534.0 237.9h0M597.3 232.5h0M555.0 241.3h0M581.0 230.0h0M614.2 234.5h0M567.1 233.1h0M606.0 236.1h0M599.6 230.4h0M533.6 244.2h0M556.3 232.0h0M570.9 244.6h0M583.8 229.8h0M541.9 245.8h0M539.4 236.5h0M564.2 235.0h0M612.9 230.7h0M578.2 230.8h0M610.9 238.4h0M593.0 243.7h0M559.2 236.3h0M565.7 240.9h0M557.5 231.0h0M587.2 238.0h0M597.8 228.8h0M595.8 237.3h0M607.7 235.2h0M572.1 238.0h0M544.3 237.5h0M548.1 241.7h0M589.2 232.5h0M582.0 241.5h0M581.3 240.2h0M568.3 236.5h0M555.5 237.2h0M620.6 230.8h0M576.4 240.2h0M596.5 229.6h0M612.3 234.3h0M603.0 229.1h0M563.5 244.8h0M597.9 245.7h0M597.4 240.9h0M596.3 228.9h0M595.9 245.0h0M606.5 243.0h0M610.5 229.0h0M566.0 232.6h0M615.6 233.1h0M593.1 237.6h0M616.3 239.4h0M568.3 234.4h0M568.8 228.6h0M548.6 239.5h0M552.6 232.0h0M602.4 227.2h0M566.4 241.2h0M553.1 232.6h0M606.2 226.9h0M557.2 241.5h0M615.4 242.3h0M619.6 239.1h0M601.6 237.9h0M582.6 230.0h0M572.6 240.1h0M551.9 238.1h0M581.5 230.5h0M545.1 237.4h0M549.1 234.3h0M605.2 243.3h0M608.5 242.3h0M576.5 229.9h0M589.5 230.8h0M598.2 231.8h0M618.7 232.2h0M564.0 230.3h0M587.4 236.1h0M580.1 245.8h0M539.1 242.2h0M540.2 245.0h0M600.9 231.9h0M552.9 243.8h0M600.5 233.6h0M574.6 233.6h0M607.6 229.0h0M611.2 232.4h0M575.6 229.9h0M618.4 242.1h0M620.4 245.5h0M560.0 235.6h0M554.9 241.9h0M550.8 245.7h0M533.3 241.2h0M602.1 231.4h0M531.7 239.3h0M555.7 238.6h0M574.9 245.6h0M604.6 236.3h0M597.0 230.8h0M610.0 234.2h0M553.4 234.8h0M610.3 229.1h0M607.9 234.4h0M535.3 246.0h0M569.1 237.0h0M579.2 242.7h0M612.0 242.0h0M612.9 242.5h0M587.1 239.4h0M619.6 245.1h0M621.4 244.2h0M615.8 236.4h0M590.5 244.2h0M558.5 242.2h0M542.3 235.3h0M555.8 238.5h0M596.3 237.4h0M592.5 237.3h0M589.5 240.4h0M618.9 234.8h0M601.8 242.8h0M609.0 229.0h0M620.2 231.2h0M601.1 229.9h0M593.0 239.6h0M601.3 237.8h0M597.3 244.0h0M597.0 238.9h0M559.2 242.8h0M582.2 228.9h0M547.2 233.0h0M605.6 229.9h0M589.5 242.1h0M586.3 240.6h0M581.3 234.7h0M607.6 244.8h0M568.4 230.9h0M530.6 243.6h0M580.9 231.8h0M594.4 239.9h0M614.5 246.2h0M550.3 245.4h0M586.2 243.1h0M619.3 240.3h0M612.5 230.6h0M581.1 241.7h0M576.6 243.1h0M554.4 236.1h0M593.0 244.7h0M544.9 236.1h0M575.4 237.0h0M549.4 241.5h0M581.2 234.6h0M573.7 242.0h0M583.9 242.5h0M568.6 228.5h0M578.5 238.8h0M613.1 238.3h0M604.1 232.4h0M591.8 231.9h0M544.8 238.9h0M547.1 234.1h0M533.0 240.6h0M547.6 241.2h0M593.9 240.3h0M598.5 239.8h0M581.4 237.8h0M547.3 239.1h0M586.1 239.7h0M565.2 245.5h0M549.3 244.8h0M564.4 242.1h0M583.6 229.7h0M620.0 230.6h0M567.1 238.3h0M566.8 245.6h0M592.0 234.1h0M549.1 245.3h0M607.0 230.8h0M570.7 230.2h0M573.4 229.3h0M609.3 227.5h0M544.5 238.0h0M565.2 239.2h0M550.5 245.4h0M588.8 245.1h0M570.9 241.6h0M556.3 233.7h0M559.8 240.8h0M609.2 230.1h0M599.4 228.9h0M580.0 245.1h0M563.2 230.5h0M568.3 229.0h0M596.0 239.4h0M598.1 245.6h0M542.6 238.9h0M545.8 242.2h0M589.5 236.5h0M582.7 228.7h0M614.5 242.2h0M594.6 246.3h0M580.8 228.4h0M602.6 229.5h0M586.3 240.1h0M612.6 238.6h0M541.4 237.5h0M583.8 244.0h0M589.8 234.0h0M600.6 229.8h0M594.9 244.7h0M572.9 243.7h0M574.3 229.5h0M550.6 231.1h0M552.8 235.6h0M545.5 241.8h0M619.1 236.4h0M543.7 243.3h0M604.0 245.1h0M573.6 232.1h0M560.6 244.3h0M575.1 242.3h0M560.2 246.2h0M567.6 237.7h0M603.0 232.2h0M611.0 229.6h0M544.9 233.6h0M564.1 237.9h0M617.2 231.5h0M597.4 238.9h0M586.9 246.1h0M548.7 238.5h0M615.7 239.4h0M574.2 228.3h0M615.5 236.4h0M600.8 228.9h0M543.2 241.3h0M561.6 238.6h0M563.5 234.9h0M531.7 244.0h0M562.9 244.2h0M602.5 236.9h0M594.3 244.3h0M618.2 232.2h0M534.5 246.3h0M617.1 236.0h0M580.7 244.4h0M609.1 236.2h0M536.7 242.3h0M531.7 239.6h0M583.2 242.2h0M601.1 241.4h0M605.0 238.0h0M542.5 234.5h0M601.0 236.5h0M608.8 243.1h0M600.9 245.9h0M556.8 235.6h0M553.6 241.5h0M611.2 243.6h0M561.5 245.5h0M595.3 239.7h0M597.7 228.4h0M582.3 244.9h0M559.9 235.4h0M547.1 239.8h0M610.1 233.2h0M604.3 241.5h0M562.7 237.9h0M583.9 229.9h0M604.7 243.8h0M606.9 240.4h0M586.3 245.1h0M595.6 243.9h0M541.3 240.3h0M605.5 237.8h0M612.0 239.0h0M541.8 243.0h0M608.8 230.4h0M542.6 245.7h0M567.8 243.5h0M603.9 235.1h0M612.0 232.4h0M594.2 235.6h0M573.0 231.1h0M607.6 245.3h0M577.5 245.5h0M594.4 232.6h0M582.8 234.4h0M596.2 241.9h0M532.0 238.9h0M603.2 243.0h0M544.5 241.1h0M604.4 234.6h0M536.4 237.9h0M619.7 238.6h0M555.5 234.9h0M562.5 238.3h0M580.1 231.4h0M609.1 237.8h0M567.2 242.3h0M601.7 226.9h0M602.7 235.3h0M569.9 243.0h0M567.6 239.7h0M597.1 241.7h0M551.4 235.4h0M611.3 245.1h0M620.2 240.2h0M599.6 228.0h0M571.5 238.1h0M577.8 246.1h0M600.5 226.9h0M607.8 241.3h0M557.4 230.1h0M565.0 239.6h0M611.5 245.7h0M554.8 230.5h0M574.6 244.4h0M559.1 245.3h0M546.5 232.5h0M560.3 236.8h0M545.4 245.9h0M594.2 245.9h0M613.0 242.9h0M557.6 239.4h0M582.1 243.8h0M576.4 245.7h0M600.9 245.6h0M556.6 242.7h0M584.8 237.4h0M564.4 241.5h0M575.1 233.1h0M610.6 227.9h0M589.0 232.1h0M577.5 232.1h0M577.1 235.3h0M603.2 243.5h0M588.8 237.3h0M588.0 230.3h0M573.3 245.1h0M577.2 235.7h0M554.2 233.7h0M599.5 243.8h0M562.3 243.5h0M594.0 236.4h0M575.0 231.8h0M605.9 238.3h0M586.0 231.1h0M614.8 234.6h0M575.5 229.3h0M605.3 236.8h0M552.5 239.9h0M537.9 240.4h0M611.2 231.0h0M573.8 244.7h0M565.9 231.7h0M585.5 246.1h0M564.6 232.0h0M559.5 246.2h0M574.6 243.9h0M609.7 231.9h0M594.4 232.7h0M548.4 234.3h0M605.1 227.9h0M600.8 227.7h0M589.0 236.3h0M558.8 235.3h0M582.9 236.9h0M538.7 242.8h0M598.9 236.6h0M618.8 239.9h0M537.2 237.3h0M586.6 237.9h0M614.2 241.3h0M533.8 238.9h0M583.7 232.4h0M581.3 230.8h0M566.0 229.4h0M602.1 229.8h0M573.1 243.0h0M584.2 234.1h0M560.6 244.0h0M597.2 243.4h0M564.5 231.4h0M583.6 235.2h0M619.4 232.8h0M584.3 236.4h0M612.5 244.1h0M592.1 245.2h0M545.3 238.3h0M539.6 243.0h0M608.8 234.8h0M564.0 241.6h0M534.8 244.0h0M552.7 237.9h0M580.6 232.8h0M544.9 245.8h0M559.3 237.7h0M560.4 229.3h0M615.3 233.8h0M579.4 242.8h0M550.5 246.0h0M575.8 246.4h0M576.8 234.6h0M533.0 238.7h0M607.6 230.5h0M598.4 239.3h0M605.4 245.0h0M581.6 236.0h0M583.9 245.9h0M542.7 242.5h0M618.3 230.2h0M551.8 244.2h0M564.0 245.7h0M540.2 245.2h0M554.0 240.9h0M618.4 231.2h0M562.0 239.4h0M571.5 232.2h0M533.0 246.5h0M566.3 236.8h0M544.7 244.7h0M576.9 244.2h0M574.3 230.3h0M621.5 238.9h0M595.7 231.6h0M538.8 236.6h0M588.6 234.0h0M586.8 235.5h0M593.8 236.3h0M620.1 241.8h0M576.4 244.2h0M603.2 234.3h0M548.7 245.5h0M590.2 242.5h0M551.8 233.2h0M585.0 236.7h0M555.7 234.0h0M579.3 246.5h0M580.8 238.2h0M546.0 246.1h0M534.7 237.8h0M570.5 245.2h0M533.8 238.4h0M559.0 243.4h0M614.6 232.3h0M553.1 245.8h0M553.5 234.3h0M537.2 246.3h0M609.7 240.8h0M562.3 243.4h0M580.3 229.8h0M540.2 243.3h0M565.7 242.8h0M619.8 232.7h0M611.9 241.6h0M536.5 240.5h0M615.5 233.3h0M599.2 235.2h0M612.7 232.1h0M561.8 241.4h0M604.8 239.4h0M618.1 244.2h0M554.6 242.8h0M547.1 235.8h0M588.4 234.8h0M621.8 241.5h0M544.7 236.0h0M576.5 239.7h0M618.3 229.0h0M596.0 235.4h0M576.5 229.3h0M617.9 237.6h0M613.5 233.1h0M571.2 231.3h0M562.0 239.0h0M542.0 240.3h0M537.0 237.1h0M571.3 244.0h0M552.7 236.1h0M616.2 232.7h0M604.1 244.5h0M591.7 234.9h0M544.6 243.5h0M536.2 239.6h0M579.4 239.7h0M550.1 245.3h0M572.1 246.1h0M562.5 235.8h0M543.6 240.1h0M597.3 244.0h0M598.0 240.4h0M615.5 239.7h0" stroke="#808080" stroke-width="3.30" stroke-linecap="round" fill="none"/><path d="M662.4 240.6h0M655.3 237.9h0M639.7 239.5h0M634.2 245.0h0M647.4 243.6h0M643.8 243.9h0M654.9 245.7h0M650.6 241.6h0M639.8 234.4h0M635.6 240.4h0M637.0 233.6h0M664.6 245.6h0M653.1 236.8h0M651.5 244.7h0M632.2 243.5h0M658.1 236.1h0M640.0 235.1h0M629.8 240.1h0M645.9 234.5h0M635.2 243.4h0M622.8 232.6h0M634.3 238.0h0M623.9 240.4h0M625.6 236.7h0M637.2 245.6h0M649.3 234.7h0M635.6 237.9h0M648.6 236.6h0M654.3 240.6h0M644.5 246.3h0M643.7 235.4h0M659.3 238.1h0M629.9 244.7h0M632.5 234.7h0M664.3 244.7h0M655.6 244.1h0M641.0 237.5h0M660.0 244.3h0M627.7 241.5h0M652.4 242.3h0M630.9 242.8h0M662.6 237.8h0M630.3 245.1h0M628.3 238.5h0M652.8 239.1h0M654.5 245.0h0M646.5 242.2h0M641.3 238.7h0M644.9 241.9h0M637.5 242.7h0M625.9 246.0h0M649.5 240.9h0M647.4 242.8h0M636.1 239.7h0M642.2 235.4h0M649.8 235.1h0M642.8 239.3h0M649.2 239.6h0M645.5 243.1h0M630.3 236.4h0M652.0 239.6h0M633.8 233.8h0M654.4 245.8h0M632.4 231.8h0M648.7 235.4h0M637.7 242.9h0M649.2 236.4h0M655.6 241.1h0M640.9 236.8h0M622.0 230.6h0M655.0 245.1h0M631.6 237.4h0M650.1 240.0h0M646.7 236.6h0M623.6 243.0h0M667.9 242.2h0M624.8 240.0h0M667.2 242.3h0M648.9 245.1h0M656.8 235.9h0M625.7 235.9h0M646.3 238.4h0M637.2 235.9h0M665.0 243.9h0M625.4 235.2h0M648.6 242.3h0M626.4 236.6h0M635.4 244.0h0M657.5 246.1h0M641.9 245.4h0M623.2 238.0h0M637.1 240.2h0M637.1 236.5h0M635.2 235.0h0M640.8 243.2h0M655.1 241.8h0M650.2 240.4h0M627.2 240.4h0M627.9 240.5h0M644.2 245.4h0M622.3 230.9h0M646.7 243.2h0M650.6 240.8h0M633.9 233.0h0M635.2 241.7h0M643.6 237.8h0M666.3 238.4h0M645.8 245.2h0M640.9 238.4h0M637.3 239.5h0M632.0 232.5h0M624.0 232.6h0M635.0 245.8h0M653.3 237.9h0M629.3 246.0h0M628.8 245.9h0M643.4 237.3h0M667.4 244.0h0M634.2 237.0h0M651.4 245.2h0M626.1 242.9h0M649.2 245.1h0M622.3 232.8h0M638.7 239.4h0M665.7 239.8h0M625.0 245.7h0M660.3 237.8h0M651.8 242.6h0M658.8 244.1h0M654.7 236.6h0M668.0 245.3h0M635.6 239.6h0M630.7 240.8h0M625.6 236.1h0M638.2 236.8h0M633.1 239.6h0M643.6 243.1h0M643.3 240.4h0M634.3 236.0h0M629.9 234.7h0M668.5 236.2h0M626.8 241.5h0M635.2 235.5h0M626.2 233.5h0M635.6 238.9h0M652.9 239.2h0M631.4 239.1h0M652.6 243.7h0M645.3 235.4h0M623.8 239.7h0M638.8 235.6h0M624.4 234.8h0M629.2 243.8h0" stroke="#808080" stroke-width="3.30" stroke-linecap="round" fill="none"/><path d="M577.8 212.6h0M581.3 207.1h0M576.9 199.8h0M575.4 209.8h0M578.8 216.0h0M575.3 207.2h0M575.4 214.5h0M577.3 214.6h0M577.2 199.1h0M580.5 209.1h0M582.0 214.5h0M579.4 218.2h0M583.0 214.7h0M582.3 213.0h0M579.5 206.1h0M579.3 206.9h0M577.2 213.1h0M574.9 211.0h0M579.7 201.4h0M583.9 213.3h0M580.2 208.6h0M583.1 214.5h0M580.4 216.4h0M579.4 204.8h0M575.6 202.2h0M576.2 212.0h0M578.3 211.4h0M581.3 217.6h0M577.1 199.4h0M579.8 214.8h0M581.4 216.9h0M578.6 201.0h0M580.2 215.5h0M578.6 207.3h0M579.8 207.3h0M578.4 207.3h0M576.0 212.3h0M581.5 217.3h0M580.6 208.2h0M578.1 203.5h0M580.8 217.2h0" stroke="#808080" stroke-width="3.30" stroke-linecap="round" fill="none"/><path d="M561.9 192.4h0M576.3 191.1h0M588.5 196.4h0M551.8 192.9h0M552.1 206.4h0M552.6 213.9h0M606.9 205.1h0M604.3 211.3h0M606.9 211.3h0M592.0 222.1h0M654.8 222.1h0M565.8 216.5h0M566.6 221.8h0M571.0 218.3h0M561.9 226.7h0M574.2 222.7h0M581.2 221.8h0M600.8 224.4h0M610.4 227.0h0M615.7 226.7h0M626.2 228.4h0M636.7 229.7h0M641.1 227.9h0M661.2 229.7h0" stroke="#808080" stroke-width="3.30" stroke-linecap="round" fill="none"/>
<polygon points="42.5,525.5 42.5,503.0 46.0,501.5 50.0,501.0 53.0,497.0 54.5,491.0 55.0,470.0 57.5,444.0 62.9,443.0 67.0,448.5 70.5,446.5 76.0,450.0 80.0,452.0 81.0,430.0 82.5,420.0 85.5,415.5 103.0,415.5 105.0,426.0 107.5,424.0 111.0,419.5 116.0,420.0 119.0,423.0 121.5,416.5 124.0,418.0 124.5,440.0 124.0,448.0 127.0,457.0 134.0,456.5 135.0,470.0 135.5,485.0 139.0,493.0 139.0,525.5" fill="#808080" stroke="#808080" stroke-width="3.30" stroke-linejoin="round"/><polygon points="92.0,440.0 95.0,436.5 98.0,435.0 102.5,435.0 104.0,450.0 106.0,456.0 112.0,456.0 113.5,447.0 115.3,439.5 117.0,443.0 122.0,447.0 124.5,456.0 124.5,470.0 124.0,489.0 112.0,490.0 98.0,489.0 89.0,485.0 87.5,470.0 88.0,456.0 91.0,449.0" fill="#fff" stroke="none"/><path d="M102.3 479.0h0M105.8 460.2h0M96.2 471.8h0M96.9 488.4h0M96.5 487.9h0M91.0 459.5h0M108.0 487.3h0M118.7 452.1h0M110.9 482.2h0M94.0 480.0h0M117.6 488.0h0M95.6 475.6h0M104.4 487.6h0M122.4 480.3h0M98.0 488.1h0M93.5 486.7h0M117.5 452.4h0M90.7 459.8h0M98.1 485.5h0M101.7 440.9h0M115.3 466.3h0M120.9 452.0h0M92.9 466.8h0M119.5 488.3h0M101.5 448.2h0M98.5 478.3h0M122.4 469.1h0M97.9 487.1h0M109.5 465.4h0M102.4 480.4h0M99.4 443.8h0M100.7 452.4h0M93.6 442.0h0M113.3 448.4h0M119.5 470.8h0M118.6 471.8h0M89.7 479.3h0M88.5 457.8h0M118.5 465.2h0M121.1 463.1h0M116.1 456.8h0M100.1 470.1h0M105.3 454.4h0M116.7 456.7h0M122.3 463.3h0M102.8 487.4h0M107.2 456.4h0M110.1 462.7h0M98.3 468.7h0M104.4 457.8h0M100.2 478.3h0M100.7 445.3h0M95.1 478.4h0M99.2 453.4h0M96.8 447.9h0M97.4 482.3h0M105.2 461.3h0M106.6 483.5h0M93.6 461.3h0M94.5 473.5h0M95.9 482.8h0M108.5 489.4h0M121.5 471.1h0M112.4 464.6h0M91.6 461.6h0M116.7 451.7h0M99.6 466.5h0M111.7 480.9h0M99.5 486.1h0M117.5 481.1h0M108.0 467.4h0M88.1 461.7h0M94.0 458.3h0M93.8 446.5h0M110.4 481.0h0M101.0 476.3h0M91.3 479.6h0M104.3 487.9h0M98.7 440.5h0M120.1 477.9h0M119.7 445.8h0M119.6 470.8h0M97.8 443.7h0M107.3 471.7h0M106.0 485.2h0M95.0 455.8h0M117.7 478.7h0M114.9 457.2h0M89.6 475.5h0M93.8 476.4h0M98.7 442.0h0M94.3 487.0h0M111.8 470.2h0M101.6 469.3h0M96.3 447.4h0M98.8 462.5h0M98.3 474.6h0M103.8 469.4h0M119.8 446.6h0M93.2 467.5h0M98.6 470.7h0M99.9 437.5h0M120.7 472.5h0M96.2 439.6h0M97.5 467.3h0M113.9 489.8h0M87.9 467.1h0M96.9 485.7h0M110.7 484.6h0M95.6 483.0h0M120.2 460.8h0M117.0 480.3h0M111.5 473.6h0M120.5 470.2h0M110.3 472.8h0M94.6 477.9h0M121.6 484.0h0M101.1 444.7h0M102.7 468.8h0M122.5 465.3h0M111.2 483.5h0M106.2 483.0h0M88.8 471.6h0M118.3 461.4h0M97.3 483.6h0M89.0 482.1h0M88.4 471.6h0M103.5 483.5h0M93.1 482.1h0M107.1 468.7h0M100.8 451.3h0M103.2 457.6h0M104.3 485.9h0M110.6 460.5h0M115.5 453.8h0M99.9 463.8h0M107.8 477.0h0M111.0 472.2h0M102.6 459.9h0M103.3 482.9h0M106.2 485.6h0" stroke="#808080" stroke-width="3.30" stroke-linecap="round" fill="none"/><polygon points="57.0,478.0 62.0,474.0 70.0,476.0 76.0,482.0 80.0,492.0 75.0,498.0 60.0,497.0 55.0,490.0" fill="#fff" stroke="none"/><path d="M58.3 484.2h0M76.3 484.8h0M60.8 490.0h0M62.6 488.0h0M60.8 492.1h0M64.8 478.5h0M64.5 487.6h0M62.7 492.4h0M66.5 476.4h0M61.7 481.6h0M69.5 481.0h0M61.5 495.0h0M56.7 491.6h0M62.3 493.0h0M60.9 495.3h0M75.3 492.3h0M61.9 476.7h0M60.4 476.0h0M75.6 484.7h0M69.1 487.0h0M70.3 489.8h0M60.7 487.8h0M61.9 477.3h0M61.7 481.1h0M65.2 494.6h0M73.9 493.4h0M58.9 493.1h0M64.5 495.8h0M70.5 490.3h0M62.4 478.2h0M61.6 492.2h0M64.9 477.2h0M57.7 483.1h0M63.8 487.0h0M71.4 492.8h0M69.7 485.4h0M62.6 490.1h0M73.1 495.6h0M71.4 494.9h0M62.9 489.9h0M76.0 488.8h0M61.6 488.2h0M60.0 486.8h0M57.7 488.4h0M56.6 483.9h0M66.4 492.9h0M58.8 486.3h0M63.1 481.6h0M67.8 483.6h0M63.9 478.3h0M65.6 492.8h0M63.7 475.2h0M70.5 493.3h0M70.7 484.5h0M60.3 475.5h0M70.6 477.6h0M67.7 477.6h0M68.7 485.6h0M74.0 497.4h0M60.6 486.2h0M63.6 484.6h0M63.7 482.6h0M66.2 488.2h0M59.2 481.3h0M63.4 484.2h0M75.8 495.6h0M63.3 483.0h0M63.5 494.0h0M74.8 489.0h0M75.7 483.5h0M59.9 478.3h0M77.1 485.1h0M65.4 487.0h0M57.7 489.5h0M68.7 478.0h0M55.7 487.4h0M62.2 482.1h0M59.4 488.9h0M62.6 484.6h0M60.2 478.5h0M67.5 492.3h0M77.7 491.3h0M73.3 489.2h0M62.8 492.5h0M66.9 487.0h0M58.7 481.2h0M76.7 494.1h0" stroke="#808080" stroke-width="3.30" stroke-linecap="round" fill="none"/><path d="M83.4 475.5h0M123.9 483.6h0M68.9 458.0h0M75.0 462.7h0M109.9 451.6h0M103.9 447.5h0M99.6 435.3h0M87.1 472.7h0M95.7 437.1h0M90.3 441.5h0M95.2 468.5h0M93.5 436.0h0M83.0 423.1h0M101.0 457.9h0M122.5 435.8h0M117.5 432.3h0M96.9 425.3h0M110.8 452.2h0M109.1 488.7h0M79.8 484.7h0M104.4 436.2h0M101.0 463.3h0M86.2 487.1h0M121.6 486.3h0M110.4 437.4h0M111.3 461.0h0M118.4 454.5h0M60.9 450.8h0M77.8 482.6h0M122.8 443.8h0M114.6 434.9h0M95.8 468.8h0M121.7 430.3h0M92.1 453.9h0M90.7 445.1h0M123.6 486.6h0M125.0 481.5h0M107.1 432.9h0M101.0 466.3h0M108.9 456.7h0M64.5 468.6h0M76.6 465.7h0M97.3 425.3h0M97.8 461.4h0M84.2 471.3h0M103.6 455.0h0M122.5 433.4h0M62.0 449.2h0M111.8 485.0h0M98.0 432.9h0M117.5 418.4h0M100.4 458.3h0M100.9 444.0h0M130.3 466.1h0M119.3 428.3h0M120.2 436.4h0M84.3 451.2h0M113.1 466.1h0M76.0 469.5h0M131.0 463.6h0M111.1 432.1h0M107.4 463.7h0M134.4 469.1h0M92.0 457.0h0M94.6 482.5h0M73.8 464.0h0M81.7 459.8h0M123.7 478.3h0M116.4 473.9h0M91.6 439.6h0M86.4 422.3h0M120.2 453.3h0M84.2 434.4h0M86.5 466.9h0M83.0 451.6h0M112.7 418.0h0M117.2 475.9h0M112.3 442.5h0M83.6 481.7h0M60.3 469.9h0M129.4 476.2h0M89.1 420.1h0M84.6 427.5h0M85.2 470.1h0M67.5 451.3h0M60.5 468.1h0M90.0 432.3h0M81.0 466.7h0M129.2 455.9h0M86.8 427.0h0" stroke="#fff" stroke-width="1.60" stroke-linecap="round" fill="none"/><path d="M131.9 473.9h0M94.8 467.5h0M80.8 470.4h0M114.8 454.0h0M104.2 422.9h0M133.0 487.9h0M94.9 506.2h0M122.6 449.0h0M108.4 502.8h0M79.0 485.6h0M110.7 428.8h0M113.6 439.6h0M70.6 514.3h0M84.0 505.7h0M130.5 472.0h0M109.7 436.4h0M130.7 489.7h0M128.7 497.5h0M100.1 434.2h0M88.6 473.8h0M67.7 517.1h0M50.3 512.4h0M48.6 516.8h0M101.2 490.8h0M80.7 467.6h0M105.1 447.4h0M73.1 489.9h0M86.0 503.4h0M85.1 492.6h0M94.1 443.9h0M77.8 475.8h0M87.5 490.4h0M105.7 489.5h0M67.0 506.7h0M127.3 455.8h0M126.2 467.6h0M106.8 488.8h0M104.3 462.3h0M100.7 485.4h0M130.8 500.6h0" stroke="#fff" stroke-width="1.80" stroke-linecap="round" fill="none"/><polygon points="221.5,525.0 221.5,501.0 240.0,502.0 260.0,503.0 290.0,505.0 310.0,503.0 316.0,495.0 320.0,490.0 320.5,525.0" fill="#808080" stroke="#808080" stroke-width="3.30" stroke-linejoin="round"/><path d="M226.8 485.1h0M232.4 476.1h0M226.7 491.8h0M232.2 472.9h0M231.6 489.2h0M233.3 493.4h0M236.4 488.8h0M236.7 482.8h0M227.8 496.6h0M227.8 471.7h0M226.1 484.2h0M235.9 478.3h0M227.6 482.9h0M231.9 487.9h0M233.1 469.1h0M233.2 472.3h0M230.7 484.0h0M225.9 487.5h0M231.6 474.6h0M234.0 471.6h0M234.6 484.3h0M226.3 475.8h0M236.6 488.5h0M231.9 489.7h0M226.5 484.0h0M235.5 476.6h0M230.0 499.0h0M235.9 476.8h0M231.4 494.1h0M233.5 486.4h0M228.0 497.8h0M231.5 496.0h0M236.0 489.2h0M230.5 488.5h0M226.6 478.2h0M224.9 495.7h0M230.8 475.9h0M236.1 491.5h0M230.1 482.6h0M228.4 482.4h0M232.9 488.5h0M228.4 496.0h0M225.4 498.2h0M233.9 472.5h0M233.3 497.8h0M232.9 479.8h0M234.8 486.2h0M230.0 494.3h0M230.4 497.5h0M231.0 471.1h0M233.2 469.6h0M227.5 493.5h0M232.5 471.0h0M224.9 482.9h0M230.1 479.2h0M229.8 488.2h0M228.1 486.0h0M226.6 490.4h0M234.4 493.9h0M226.7 497.8h0M234.0 494.3h0M230.4 487.7h0M225.5 497.8h0M225.1 482.5h0M227.0 498.8h0M231.5 480.2h0M231.6 490.5h0M225.3 477.1h0M229.0 486.9h0M225.7 487.3h0M230.3 489.0h0M229.7 469.2h0M231.2 469.3h0M229.4 470.0h0M235.7 486.6h0M229.1 474.3h0M228.8 476.2h0M234.8 484.5h0M228.4 474.9h0M233.3 474.7h0M236.0 489.8h0M232.1 471.3h0M236.5 479.6h0M233.0 494.4h0M236.0 475.4h0M226.5 489.6h0M232.6 497.2h0M226.1 475.4h0M226.7 477.4h0M224.7 482.4h0M235.5 496.7h0M228.2 480.2h0M226.7 483.7h0M234.0 489.0h0M225.4 475.9h0M229.0 481.5h0M235.9 473.3h0M234.9 475.3h0M234.7 494.0h0M226.8 490.5h0M232.8 494.7h0M231.1 480.3h0M235.5 476.8h0M229.0 497.4h0M226.4 483.2h0M232.5 475.7h0M224.8 492.5h0M232.9 488.4h0M228.1 487.9h0M230.7 496.3h0M235.1 496.5h0M228.1 469.3h0M230.8 493.8h0M229.1 490.3h0M234.6 474.6h0M226.7 494.9h0M226.7 476.0h0M227.1 485.6h0M233.3 492.5h0M225.0 494.2h0M232.9 478.3h0M229.3 476.7h0M235.8 494.1h0M231.0 495.5h0M228.8 479.2h0M229.1 483.2h0M233.9 479.8h0M235.5 491.8h0M235.6 475.5h0M235.8 490.5h0M228.0 490.3h0M232.1 482.0h0M227.7 470.7h0M227.3 498.5h0M236.3 480.4h0M228.3 485.5h0M231.8 488.0h0M226.0 484.1h0M234.7 488.3h0M229.9 475.4h0M235.4 475.9h0M235.8 494.5h0M235.4 475.9h0M228.7 485.4h0M236.6 483.1h0M230.9 494.4h0M227.9 486.6h0M229.6 489.9h0M229.0 473.1h0M232.3 485.5h0M231.3 496.7h0M231.5 496.9h0M230.1 483.5h0M229.6 494.7h0M233.5 497.4h0M234.8 469.7h0M226.7 488.7h0M234.3 474.4h0M227.3 481.3h0M235.7 492.1h0M234.7 490.3h0M231.6 487.8h0M229.7 494.6h0M236.2 487.9h0M230.6 467.7h0M230.1 488.8h0M227.2 472.3h0M229.5 492.7h0M232.2 476.1h0M232.1 485.0h0M227.3 472.9h0M234.0 496.0h0M236.2 486.4h0M226.2 488.4h0M228.1 467.7h0M231.9 497.4h0M225.9 481.9h0M225.1 474.7h0M226.7 478.7h0M232.5 496.0h0M236.0 490.5h0M230.8 470.2h0" stroke="#808080" stroke-width="3.30" stroke-linecap="round" fill="none"/><path d="M241.5 479.5h0M244.9 482.9h0M242.6 475.6h0M243.2 490.1h0M245.3 489.7h0M245.9 474.5h0M247.0 484.3h0M245.3 473.5h0M243.2 496.1h0M246.4 496.1h0M242.8 468.7h0M246.5 482.8h0M245.0 468.0h0M242.5 491.8h0M241.4 479.6h0M246.1 485.5h0M241.2 467.6h0M245.0 471.3h0M245.8 480.8h0M245.3 474.4h0M243.2 496.3h0M247.3 494.8h0M243.4 474.9h0M246.6 491.5h0M245.0 494.6h0M241.8 482.1h0M242.2 484.1h0M241.5 475.2h0M245.4 483.1h0M245.4 490.1h0M247.5 493.9h0M246.0 475.3h0M245.2 484.0h0M242.4 479.4h0M244.5 477.7h0M243.0 479.7h0M242.7 485.0h0M242.4 466.0h0M247.9 489.5h0M244.0 490.5h0M245.5 468.7h0M242.6 480.5h0M244.7 476.5h0M243.7 474.1h0M242.3 487.1h0M241.5 478.2h0M241.7 490.1h0M244.6 467.5h0M244.9 492.0h0M247.0 495.3h0M242.4 496.6h0M241.6 466.8h0M244.8 485.6h0M242.7 481.6h0M242.6 487.1h0M245.4 474.9h0M244.3 494.4h0M244.6 486.6h0M244.1 484.7h0M245.9 493.4h0M245.2 477.7h0M243.9 488.3h0M242.0 481.2h0M241.7 470.5h0M246.1 478.7h0M245.6 467.7h0M242.0 487.6h0M245.7 497.9h0M246.6 479.5h0M242.8 479.8h0M244.6 493.4h0M246.7 488.4h0M244.6 487.1h0M245.4 482.4h0M243.7 476.2h0M243.9 490.6h0M243.7 479.2h0M245.7 471.6h0M245.3 485.0h0M241.8 480.7h0M242.1 482.9h0M246.3 482.3h0M244.1 469.4h0M244.8 474.4h0M243.2 486.2h0M246.1 488.5h0M246.4 474.8h0M245.5 496.4h0M246.9 481.6h0M244.7 469.5h0M242.8 471.9h0M246.5 472.4h0M245.2 496.9h0M244.1 494.3h0M247.3 492.1h0M247.3 483.2h0" stroke="#808080" stroke-width="3.30" stroke-linecap="round" fill="none"/><path d="M230.8 499.9h0M221.5 496.9h0M235.6 497.2h0M231.3 498.6h0M235.5 500.1h0M226.0 496.9h0M225.8 501.1h0M235.9 500.6h0M223.4 500.3h0M224.8 500.8h0M225.1 497.2h0M223.7 501.5h0M224.6 496.7h0M223.1 497.9h0M227.7 497.1h0M230.5 502.0h0M233.4 500.1h0M223.5 499.9h0M230.0 497.2h0M233.8 497.2h0M232.0 500.2h0M231.1 501.5h0M224.2 497.8h0M231.6 500.6h0M228.6 499.7h0M226.4 501.0h0M232.7 496.0h0M234.8 501.3h0M222.1 500.5h0M234.9 497.8h0M226.0 501.5h0M231.2 501.4h0M232.4 497.7h0M231.6 501.6h0M222.4 497.9h0M224.0 497.2h0" stroke="#808080" stroke-width="3.30" stroke-linecap="round" fill="none"/><path d="M265.3 497.9h0M266.6 496.7h0M278.1 495.2h0M318.3 487.4h0M293.8 499.7h0M267.6 501.4h0M265.8 499.1h0M291.5 500.5h0M262.3 489.9h0M318.0 480.4h0M279.7 500.9h0M271.1 499.3h0M290.8 500.6h0M317.9 499.5h0M314.1 501.2h0M277.5 499.0h0M283.2 495.8h0M260.6 498.1h0M277.7 503.4h0M255.3 489.5h0M282.7 503.0h0M285.1 500.5h0M295.2 504.5h0M282.6 497.1h0M270.6 500.2h0M273.1 499.8h0M279.6 503.4h0M275.6 498.0h0M290.0 501.3h0M284.6 503.4h0M256.6 487.9h0M260.0 491.8h0M317.0 480.6h0M257.8 492.6h0M319.8 500.1h0M263.6 499.8h0M304.6 499.5h0M311.5 504.1h0M286.9 504.0h0M297.8 503.8h0M303.6 504.3h0M292.5 500.6h0M280.4 499.1h0M312.4 496.7h0M263.8 494.2h0M259.5 499.9h0M307.1 501.1h0M316.7 494.8h0M317.7 504.1h0M272.2 495.2h0M306.6 501.4h0M315.9 482.8h0M265.4 500.7h0M306.5 500.1h0M270.0 503.6h0M262.5 495.0h0M279.1 498.7h0M286.9 497.5h0M276.9 500.8h0M290.9 501.5h0M262.2 503.4h0M264.8 495.8h0M317.2 484.9h0M274.1 496.5h0M279.2 499.0h0M267.2 503.4h0M315.4 486.4h0M264.9 497.2h0M295.0 503.0h0M279.6 500.6h0M318.3 488.6h0M264.0 501.6h0M257.7 490.9h0M269.5 503.3h0M300.7 501.3h0M282.8 498.7h0M304.1 503.2h0M317.2 499.6h0M276.7 502.1h0M262.7 499.5h0M273.6 504.7h0M275.6 502.5h0M304.6 502.4h0M269.4 501.6h0M292.9 503.7h0M272.7 501.6h0M283.2 504.5h0M300.5 503.5h0M278.3 502.8h0M256.7 500.9h0M278.0 498.3h0M317.1 490.2h0M270.7 499.2h0M291.4 504.4h0M274.6 504.9h0M319.3 496.3h0M315.2 489.2h0M310.8 497.2h0M304.4 498.7h0M317.4 501.8h0M313.6 491.0h0M256.4 500.2h0M256.6 500.8h0M319.2 482.8h0M270.3 495.8h0M266.7 496.0h0M256.8 487.9h0M262.5 493.8h0M261.0 488.6h0M253.7 490.9h0M315.1 497.7h0M309.2 503.3h0M318.3 503.2h0M253.0 499.9h0M318.6 477.7h0M294.9 501.0h0M315.1 492.8h0M282.9 496.0h0M300.8 501.5h0M259.9 489.2h0M316.5 490.9h0M318.6 477.2h0M276.1 494.9h0M301.7 503.9h0M281.4 499.2h0M270.5 503.4h0M262.4 494.2h0M296.7 500.3h0M255.4 490.6h0M270.0 497.9h0M308.7 501.7h0M259.8 490.3h0M297.7 503.6h0M277.3 499.3h0M316.8 492.6h0M278.9 502.3h0M271.0 495.6h0M302.5 500.0h0M317.7 502.9h0M317.1 501.9h0M315.9 481.9h0M253.0 487.5h0M318.5 491.8h0M265.2 498.3h0M264.1 497.2h0M261.1 500.0h0M286.8 499.1h0M304.6 500.5h0M314.5 494.4h0M257.4 486.1h0M308.0 501.8h0M270.8 494.8h0M260.4 502.7h0M318.0 503.3h0M316.1 502.2h0M269.0 502.8h0M254.3 483.9h0M266.6 500.8h0M254.0 499.0h0M277.7 502.1h0M264.7 492.3h0M311.1 499.2h0M291.1 500.4h0M256.9 497.6h0M262.0 499.8h0M255.0 488.4h0M255.0 488.1h0M293.8 500.7h0M257.6 503.7h0M304.1 499.5h0M259.3 494.5h0M253.5 492.3h0M253.3 500.3h0M269.5 497.9h0M314.6 491.2h0M255.2 497.1h0M264.2 501.6h0M285.5 497.2h0M287.9 504.9h0M312.9 496.5h0M309.7 500.9h0M258.4 501.5h0M257.3 498.8h0M256.1 500.6h0M316.9 478.6h0M277.5 501.4h0M273.8 494.0h0M257.1 501.7h0M315.9 490.1h0M314.1 495.2h0M305.2 500.1h0M304.1 497.5h0M282.8 504.0h0M299.6 503.1h0M311.0 502.4h0M256.1 504.8h0M299.9 499.7h0M315.5 489.4h0M256.3 501.8h0M290.6 503.4h0M285.3 501.2h0M260.2 496.8h0M306.0 503.8h0M276.5 496.0h0M283.3 499.1h0" stroke="#808080" stroke-width="3.30" stroke-linecap="round" fill="none"/><ellipse cx="238.6" cy="502" rx="2.6" ry="4.5" fill="#fff"/><ellipse cx="301.2" cy="513" rx="2" ry="1.5" fill="#fff"/><path d="M221.5 472.0h0M222.0 480.5h0M221.8 484.5h0M222.0 488.0h0M222.5 491.0h0M250.5 497.0h0M44.6 494.2h0M48.4 486.4h0M48.4 491.3h0M45.0 497.5h0M51.0 495.5h0M87.4 405.7h0M222.8 468.2h0M221.9 477.4h0M319.5 463.7h0M317.7 472.8h0M313.1 469.2h0M313.1 476.5h0M309.5 488.3h0" stroke="#808080" stroke-width="3.30" stroke-linecap="round" fill="none"/>
<polygon points="392.5,525.0 392.5,499.5 396.0,498.0 400.0,502.5 410.0,502.5 420.0,502.0 425.0,500.0 428.0,497.5 431.0,501.5 437.0,500.0 442.0,498.0 447.0,500.0 451.9,497.5 452.5,525.0" fill="#808080" stroke="#808080" stroke-width="3.30" stroke-linejoin="round"/><path d="M422.4 509.4h0M441.0 517.5h0M439.2 508.6h0M448.4 504.1h0M439.1 514.7h0M404.7 520.8h0M432.5 501.6h0M437.0 514.9h0M431.6 521.3h0M446.2 506.5h0M432.0 503.5h0M423.8 505.1h0M423.9 503.6h0M420.6 508.6h0M409.2 519.3h0M447.0 513.1h0M439.0 513.6h0M437.1 505.4h0M409.5 506.8h0M422.9 511.4h0M446.1 517.8h0M413.1 508.2h0" stroke="#fff" stroke-width="1.80" stroke-linecap="round" fill="none"/><path d="M440.1 494.4h0M448.6 492.4h0M426.7 494.4h0M438.0 495.3h0M427.8 498.0h0M437.7 492.6h0M434.4 499.3h0M447.0 490.6h0M428.1 493.1h0M420.7 494.1h0M394.3 497.0h0M441.4 497.8h0M409.2 499.8h0M429.5 495.6h0M434.0 493.5h0M396.8 497.9h0M408.3 493.2h0M395.2 494.6h0M397.3 498.3h0M442.3 493.1h0M450.8 499.8h0M448.4 491.8h0M449.1 498.4h0" stroke="#808080" stroke-width="3.30" stroke-linecap="round" fill="none"/><polygon points="392.3,458.5 398.5,461.0 401.6,461.0 405.7,460.5 409.9,462.0 412.0,456.0 412.0,451.5 415.0,450.5 415.0,436.5 419.2,434.8 423.9,433.8 424.9,425.0 428.5,423.4 432.7,423.4 434.7,428.0 436.8,425.5 439.9,430.0 441.0,437.0 439.9,443.5 435.8,447.5 431.0,447.0 428.5,447.0 424.4,449.0 419.2,450.5 416.1,451.5 416.1,459.6 414.0,466.8 409.9,472.0 405.7,477.0 401.6,480.5 399.5,480.0 399.0,472.0 396.4,471.0 392.3,470.0" fill="#808080" stroke="#808080" stroke-width="3.30" stroke-linejoin="round"/><path d="M437 427.3L433 432L431.2 437L431.6 444.5" stroke="#fff" stroke-width="1.9" stroke-linecap="round" fill="none"/><path d="M393.0 478.6h0M394.8 455.5h0M410.5 453.5h0M424.5 453.5h0M420.8 458.5h0M422.5 460.0h0M435.8 461.1h0M432.5 469.2h0M436.5 448.6h0M438.3 450.7h0M414.5 471.0h0M416.0 472.8h0M418.3 474.5h0M426.0 476.5h0M427.5 479.0h0M407.0 480.6h0M409.5 481.0h0M414.3 480.0h0M434.3 479.3h0M414.3 473.8h0M418.4 473.8h0M425.8 477.1h0M427.4 479.5h0M432.3 484.4h0M433.9 479.5h0M422.5 485.2h0M402.1 486.0h0M406.2 485.2h0M407.0 491.7h0M409.5 481.1h0M414.3 482.0h0M425.0 491.4h0M428.2 490.4h0M435.5 491.7h0M440.4 486.9h0M442.1 494.2h0M446.1 494.2h0M451.0 489.3h0M452.2 495.0h0M432.3 468.9h0M435.5 460.8h0M437.2 449.3h0M438.0 451.0h0M416.0 495.0h0M418.4 495.8h0M415.2 498.3h0M398.9 491.7h0M395.6 495.8h0M401.3 498.3h0" stroke="#808080" stroke-width="3.30" stroke-linecap="round" fill="none"/><polygon points="524.5,525.0 524.5,507.0 540.0,505.0 560.0,506.0 580.0,505.0 600.0,503.0 604.8,488.0 611.3,479.5 620.1,475.0 628.9,471.0 633.2,477.0 637.6,481.5 643.0,484.0 648.6,491.0 653.0,497.0 657.3,502.0 665.0,503.0 670.0,503.0 670.0,525.0" fill="#808080" stroke="#808080" stroke-width="3.30" stroke-linejoin="round"/><path d="M614.9 495.8h0M581.8 508.0h0M632.5 505.4h0M591.9 508.5h0M631.2 508.4h0M593.0 514.3h0M633.2 499.0h0M629.9 502.9h0M564.5 508.2h0M616.3 507.3h0M634.0 496.6h0M604.3 513.9h0M627.9 495.0h0M570.8 514.8h0M643.3 519.5h0M636.0 515.5h0M614.3 514.7h0M602.1 503.8h0M588.5 509.2h0M608.2 509.0h0M525.8 519.1h0M628.6 485.0h0M617.4 515.1h0M651.2 500.8h0M642.9 501.9h0M549.2 515.4h0M588.6 512.2h0M613.1 504.0h0M550.9 512.4h0M558.9 508.6h0M617.4 488.0h0M610.5 493.9h0M596.2 512.8h0M572.6 508.7h0M612.6 488.3h0M588.8 509.8h0M570.0 511.8h0M594.3 517.0h0M613.1 491.8h0M613.5 517.3h0" stroke="#fff" stroke-width="1.80" stroke-linecap="round" fill="none"/><path d="M544.3 494.8h0M586.9 506.0h0M603.3 502.7h0M562.5 507.8h0M594.4 504.9h0M583.7 505.9h0M556.1 501.9h0M601.1 501.1h0M536.4 491.2h0M570.9 503.9h0M582.9 497.3h0M589.1 503.2h0M601.5 502.9h0M524.8 501.5h0M587.6 502.6h0M547.6 495.0h0M553.5 505.5h0M533.9 498.2h0M592.6 496.3h0M599.6 499.2h0M567.6 501.9h0M562.8 503.3h0M569.3 502.9h0M532.9 491.4h0M530.6 501.9h0M597.5 502.7h0M581.8 498.3h0M580.6 495.7h0M560.9 506.8h0M575.8 495.4h0M551.0 494.5h0M536.7 495.1h0M582.8 495.5h0M572.0 500.4h0M552.6 505.5h0M545.1 506.7h0M546.3 502.4h0M543.9 500.1h0M538.8 495.7h0M579.7 506.5h0M559.9 492.4h0M545.9 505.3h0M577.0 505.6h0M591.7 495.7h0M592.9 495.1h0M550.6 502.7h0M595.9 495.7h0M555.3 499.1h0M554.0 497.6h0M586.3 494.0h0M599.1 497.4h0M601.4 501.4h0M556.2 492.3h0M569.5 497.9h0M564.5 496.8h0M601.1 501.5h0M572.8 504.5h0M538.2 507.1h0M573.3 497.4h0M533.5 505.0h0M525.8 504.7h0M575.3 491.8h0M558.9 500.2h0M593.4 501.7h0M543.1 492.4h0M533.4 504.3h0M572.8 505.6h0M570.1 502.5h0M588.8 500.8h0M573.9 497.0h0M561.7 491.4h0M547.4 499.7h0M566.5 504.8h0M559.6 497.9h0M552.0 499.1h0M600.9 505.1h0M599.5 496.1h0M584.6 499.3h0M543.0 492.2h0M563.9 502.2h0M567.8 491.5h0M574.6 498.6h0M562.5 501.0h0M555.4 491.7h0M571.8 493.1h0M587.2 502.1h0M566.7 504.3h0M559.9 492.3h0M576.1 497.0h0M562.5 496.6h0M542.6 505.2h0M582.7 498.2h0M602.6 498.5h0M557.3 501.2h0M547.0 502.8h0M532.5 501.3h0M544.9 500.7h0M595.9 493.5h0M599.2 502.0h0M525.7 507.0h0M582.1 500.6h0M530.1 504.5h0M561.2 507.1h0M594.3 503.9h0M563.5 501.1h0M591.8 499.0h0M527.0 500.8h0M532.7 500.4h0M527.7 498.2h0M588.5 494.1h0M554.3 499.1h0M577.3 500.5h0M534.9 504.8h0M558.5 502.1h0M602.7 493.4h0M589.4 492.7h0M575.1 502.4h0M541.4 495.5h0M557.9 504.5h0M526.5 495.2h0M530.2 492.7h0M597.8 497.7h0M563.7 501.3h0M535.2 502.5h0M569.0 503.8h0M556.7 494.7h0M542.5 504.7h0M567.5 493.2h0M557.1 492.9h0M587.5 504.6h0M559.7 494.9h0M563.6 496.3h0M557.1 496.2h0M548.1 499.2h0M570.7 505.1h0M600.9 492.2h0M564.7 495.3h0M557.4 501.6h0M565.5 491.7h0M532.7 495.1h0M600.8 489.7h0M534.8 503.9h0M537.8 497.2h0M534.5 495.7h0M568.4 492.0h0M583.3 500.2h0M531.8 501.4h0M603.3 493.8h0M529.4 504.9h0M528.6 506.2h0M554.6 506.4h0M593.7 494.2h0M550.1 490.6h0M592.2 500.2h0M559.6 503.6h0M540.1 505.0h0M576.4 493.8h0M568.1 492.0h0M565.6 493.7h0M585.8 492.2h0M538.7 494.1h0M580.4 494.4h0M547.9 491.3h0M538.6 492.8h0M582.2 501.6h0M535.1 504.0h0M589.6 500.5h0M582.1 495.1h0M583.4 498.3h0M524.6 495.1h0M564.9 507.0h0M553.6 498.8h0M550.2 507.7h0M591.8 503.9h0M556.5 497.1h0M545.8 506.3h0M533.9 504.3h0M602.8 496.4h0M534.5 503.1h0M528.1 499.6h0M563.2 506.5h0M559.7 491.3h0M587.8 496.5h0M577.7 501.0h0M525.7 495.7h0M525.5 500.7h0M550.6 501.3h0M578.3 500.9h0M534.8 507.0h0M547.8 500.7h0M539.6 491.4h0M594.3 500.5h0M568.3 501.9h0M594.6 502.5h0M562.5 497.3h0M598.3 494.5h0M563.0 493.1h0M595.9 499.3h0M552.6 500.0h0M579.0 502.5h0M527.2 498.6h0M525.6 506.6h0M533.0 500.9h0M534.6 495.0h0M585.3 493.2h0M576.2 497.4h0M534.0 493.4h0M558.6 506.3h0M600.8 494.4h0M600.2 491.5h0M602.0 501.4h0M553.5 504.1h0M555.6 496.9h0M584.2 505.9h0M547.6 501.3h0M579.9 504.8h0M565.4 495.5h0M560.5 497.3h0M591.4 498.5h0M567.3 500.2h0M543.6 504.0h0M527.8 493.7h0M556.8 495.3h0M550.0 494.3h0M549.0 503.5h0M562.2 503.0h0M575.2 506.4h0M583.4 504.6h0M572.5 499.1h0M582.6 500.4h0M535.0 506.1h0M545.1 501.4h0M580.2 502.4h0M542.0 498.1h0M591.3 496.5h0M567.9 497.1h0M537.2 498.6h0M565.6 492.5h0M594.2 498.0h0M578.6 493.4h0M565.4 491.3h0M603.7 503.6h0M577.4 505.3h0M576.0 500.5h0M541.8 490.5h0M599.4 498.1h0M545.8 501.3h0M597.5 493.7h0M541.7 498.9h0M549.2 500.8h0M552.6 499.4h0M555.1 498.6h0M585.2 504.0h0M532.0 507.1h0M563.7 504.1h0M597.6 492.4h0M548.0 498.4h0M592.5 496.0h0M551.2 499.4h0M529.0 503.0h0M538.3 502.1h0M572.9 491.5h0M585.1 504.5h0M541.1 505.7h0M568.5 495.6h0M530.9 505.1h0M602.7 501.7h0M567.6 506.4h0M539.9 505.1h0M569.9 505.7h0M574.6 502.2h0M582.4 497.8h0M540.8 499.0h0M546.6 498.9h0M544.8 492.6h0M536.6 507.2h0M557.1 505.8h0" stroke="#808080" stroke-width="3.30" stroke-linecap="round" fill="none"/><path d="M667.3 497.3h0M653.2 503.5h0M663.3 495.4h0M670.2 501.5h0M653.1 497.9h0M653.8 504.2h0M662.2 498.6h0M657.4 501.9h0M657.4 504.9h0M655.3 495.0h0M661.8 494.0h0M655.8 503.3h0M654.8 503.3h0M659.4 494.6h0M665.2 492.0h0M670.3 504.8h0M664.0 494.6h0M657.2 501.2h0M667.8 501.7h0M665.4 496.2h0M671.0 496.2h0M662.3 503.7h0M663.7 503.7h0M656.7 504.6h0M661.9 492.8h0M654.1 502.3h0M662.0 492.6h0M668.9 500.5h0M668.4 495.1h0M670.8 493.7h0M665.8 493.4h0M665.8 488.7h0M651.7 500.0h0M668.1 495.7h0M659.2 494.2h0M655.8 496.1h0M666.2 496.2h0M653.5 504.2h0M666.6 499.4h0M664.6 498.5h0M651.2 502.6h0M656.2 498.3h0M664.6 496.5h0M665.2 502.5h0M667.3 502.6h0M669.0 504.6h0M668.3 501.7h0M656.7 500.6h0M669.3 500.5h0M658.0 495.1h0M667.6 504.8h0M667.3 497.3h0M652.3 502.4h0M661.7 494.6h0M668.5 496.2h0M650.9 497.3h0M667.9 491.8h0M662.8 497.9h0M656.7 500.2h0" stroke="#808080" stroke-width="3.30" stroke-linecap="round" fill="none"/><path d="M630.5 465.9h0M642.0 485.0h0M636.4 463.0h0M622.2 476.8h0M630.5 481.5h0M643.5 484.8h0M626.1 479.0h0M629.3 462.9h0M640.9 474.4h0M632.5 467.6h0M626.2 464.3h0M620.5 476.8h0M632.6 474.1h0M624.2 467.7h0M631.9 465.6h0M635.5 487.3h0M639.3 468.5h0M631.1 468.7h0M626.3 463.5h0M638.8 472.6h0M631.6 460.9h0M643.9 483.8h0M636.1 481.1h0M627.4 462.4h0M637.9 466.7h0M619.2 474.1h0M636.0 477.1h0M634.9 465.6h0M640.7 475.1h0M639.6 484.8h0M626.4 468.5h0M622.8 482.4h0M620.5 477.5h0M626.5 485.1h0M638.9 473.2h0M637.6 488.1h0M628.6 480.7h0M636.4 475.1h0M638.3 485.3h0M637.2 476.2h0M632.7 482.6h0M633.3 470.4h0M623.3 476.6h0M629.1 472.2h0M639.9 478.7h0M620.8 473.2h0M618.3 476.9h0M632.4 484.1h0M635.8 482.6h0M638.8 479.2h0M636.8 469.2h0M625.6 463.5h0M630.2 483.8h0M639.3 476.8h0M632.2 471.0h0M634.9 486.8h0M636.0 475.1h0M639.1 473.6h0M642.7 486.6h0M622.1 478.3h0M640.4 474.1h0M635.3 467.7h0M625.9 467.6h0M627.7 481.1h0M629.2 474.9h0M624.1 479.5h0M638.7 487.7h0M630.2 472.5h0M640.1 479.9h0M627.5 462.9h0M642.6 486.8h0M632.0 469.1h0M638.7 471.9h0M632.0 461.0h0M624.5 483.9h0M641.4 470.7h0M624.3 483.8h0M633.7 478.9h0M638.2 469.6h0M631.6 466.4h0M643.3 480.7h0M635.3 462.3h0M631.4 469.8h0M621.8 480.5h0M634.0 462.6h0M622.0 473.5h0M637.2 475.2h0M621.1 472.3h0M630.6 483.7h0M618.5 476.2h0M636.0 465.7h0M633.1 479.7h0M635.5 467.8h0M639.3 477.2h0M634.4 474.1h0M637.9 486.3h0M632.4 481.3h0M625.8 482.4h0M624.1 470.2h0M634.5 480.6h0M631.8 481.5h0M638.1 474.0h0M638.5 484.0h0M619.4 477.5h0M633.5 475.1h0M635.1 475.4h0M629.1 480.9h0M622.9 468.0h0M632.3 482.3h0" stroke="#808080" stroke-width="3.30" stroke-linecap="round" fill="none"/><path d="M538.0 462.9h0M538.0 466.6h0M538.0 469.7h0M531.8 475.4h0M545.6 473.7h0M554.5 474.4h0M559.4 480.6h0M532.5 483.3h0M529.6 485.9h0M548.0 488.1h0M568.6 487.2h0M576.9 483.3h0M587.4 483.6h0M586.3 487.6h0M595.3 481.9h0M600.1 486.3h0M604.7 485.5h0M607.1 480.0h0M525.9 498.4h0M559.4 489.8h0M598.2 490.5h0M602.1 489.8h0M590.9 493.8h0M578.2 496.0h0" stroke="#808080" stroke-width="3.30" stroke-linecap="round" fill="none"/><polygon points="619.5,429.0 621.0,425.5 624.0,424.5 628.5,423.5 629.0,432.0 627.5,438.5 621.0,438.5" fill="#808080" stroke="#808080" stroke-width="3.30" stroke-linejoin="round"/><path d="M633.8 431.4h0M634.8 432.4h0M632.9 433.1h0M634.7 433.1h0M632.1 433.5h0M635.8 434.4h0M636.7 434.2h0M634.8 434.0h0M633.9 434.7h0M634.1 434.9h0M637.0 435.7h0M637.7 436.2h0M635.1 435.7h0M636.0 437.2h0M635.0 437.1h0M639.3 436.8h0M636.3 437.6h0M636.0 438.9h0M639.0 438.1h0M635.7 439.5h0M638.9 439.2h0M635.7 439.2h0M637.4 441.1h0M638.3 440.3h0M637.0 441.5h0M637.4 441.5h0M640.7 442.3h0M637.9 442.0h0M638.4 442.6h0M640.7 443.3h0M639.7 444.4h0M637.0 444.6h0M641.3 444.1h0M637.2 444.9h0M640.3 445.6h0M639.7 446.1h0M641.6 446.0h0M639.9 446.4h0M637.5 447.2h0M641.0 447.5h0M640.3 448.2h0M637.4 449.3h0M639.6 448.6h0M638.7 449.3h0M639.6 450.9h0M640.5 450.1h0M638.9 451.1h0M639.1 452.2h0M640.6 452.2h0M639.2 452.6h0M642.3 452.6h0M643.3 453.2h0M641.6 452.8h0M639.7 454.4h0M643.5 453.9h0M641.6 455.2h0M641.6 455.3h0M643.9 455.4h0M643.0 455.6h0M642.9 456.9h0M642.5 457.5h0M645.8 456.7h0M642.6 457.3h0M643.8 457.9h0M643.1 457.9h0M643.5 457.9h0M643.3 459.4h0M644.7 459.2h0M645.9 460.3h0M643.4 460.5h0M646.3 461.5h0M647.2 461.2h0M644.9 462.2h0M643.4 461.9h0M645.5 463.0h0M647.0 463.4h0M645.7 463.1h0M647.5 464.6h0M646.9 464.2h0M648.1 464.5h0M647.7 464.9h0M648.3 465.0h0M645.6 466.0h0M645.0 467.2h0M644.5 467.2h0M645.0 467.7h0M648.5 468.3h0M646.8 468.8h0M647.8 469.0h0M646.1 468.9h0M645.4 470.3h0M645.1 470.3h0M647.1 470.3h0M647.0 471.3h0M648.0 471.8h0M646.0 472.4h0M645.5 471.7h0M649.3 472.9h0M649.0 472.8h0M646.3 472.9h0M648.4 474.1h0M647.2 474.2h0M648.3 475.0h0M646.1 475.3h0M650.7 475.8h0M647.7 475.6h0M648.8 477.6h0M647.3 477.8h0M646.4 478.3h0M650.4 478.4h0M650.8 478.1h0M651.1 479.5h0M651.1 479.9h0M647.9 479.6h0M648.8 481.0h0M647.2 481.7h0M650.2 481.5h0M647.7 481.5h0M647.4 483.1h0M648.2 482.7h0M650.5 482.9h0M650.7 483.3h0M650.8 484.0h0M649.5 484.4h0M648.8 485.4h0M650.0 484.9h0M649.4 486.1h0M648.3 486.8h0M649.6 487.1h0M649.2 486.8h0M647.3 487.9h0M651.8 489.1h0M650.5 489.3h0M651.2 489.9h0M647.7 490.3h0M648.7 489.9h0" stroke="#808080" stroke-width="3.30" stroke-linecap="round" fill="none"/><path d="M627.2 463.4h0M634.4 461.3h0M631.5 454.8h0M632.7 466.9h0M628.5 468.4h0M628.0 466.2h0M627.9 463.4h0M629.7 453.3h0M630.8 474.9h0M633.6 457.8h0M634.4 467.3h0M636.9 475.2h0M630.1 472.5h0M630.5 470.6h0M629.5 457.5h0M629.4 459.2h0M633.1 457.5h0M632.4 452.3h0M637.1 476.9h0M633.7 467.9h0M632.6 471.9h0M628.6 454.4h0M632.0 459.1h0M629.2 463.5h0M632.6 457.9h0M627.9 463.4h0M636.6 474.2h0M627.5 466.4h0M633.3 477.6h0M631.4 466.7h0M632.3 462.3h0M627.5 463.8h0M634.3 462.2h0M633.2 456.2h0M635.9 476.8h0M628.0 459.0h0M627.7 465.7h0M633.0 452.4h0M631.5 452.5h0M632.8 475.9h0M634.1 461.8h0M631.7 463.5h0M632.2 470.9h0M634.7 473.2h0M632.5 473.9h0M629.9 454.5h0M628.7 469.1h0M629.4 465.6h0M633.1 458.9h0M627.4 467.6h0M628.4 459.5h0M633.5 467.1h0M633.8 475.1h0" stroke="#808080" stroke-width="3.30" stroke-linecap="round" fill="none"/><path d="M607.9 481.5h0M624.7 475.8h0M621.0 467.6h0M615.5 475.5h0M618.0 474.7h0M613.7 474.2h0M618.5 473.7h0M615.8 476.7h0M619.1 476.0h0M621.3 470.3h0M618.2 470.7h0M615.0 475.4h0M620.1 468.4h0M625.6 475.6h0M613.7 475.5h0M622.0 466.6h0M621.8 467.5h0M612.5 478.4h0M615.4 475.4h0M612.9 478.7h0M615.4 472.0h0M625.0 469.4h0M620.7 471.2h0M622.5 472.8h0M614.4 474.6h0" stroke="#808080" stroke-width="3.30" stroke-linecap="round" fill="none"/><path d="M620.2 454.0h0M623.9 446.5h0M626.4 442.7h0M630.9 442.1h0M609.4 470.4h0M615.1 469.2h0M605.0 484.9h0M602.5 489.3h0" stroke="#808080" stroke-width="3.30" stroke-linecap="round" fill="none"/>
<line x1="34.1" x2="334.8" y1="227.48" y2="227.48" stroke="#ff0000" stroke-width="1.15" stroke-dasharray="4.2 4.0"/>
<line x1="384.4" x2="685.5" y1="94.46" y2="94.46" stroke="#ff0000" stroke-width="1.15" stroke-dasharray="4.2 4.0"/>
<line x1="28.9" x2="334.1" y1="413.61" y2="413.61" stroke="#ff0000" stroke-width="1.15" stroke-dasharray="4.2 4.0"/>
<line x1="379.3" x2="685.5" y1="413.08" y2="413.08" stroke="#ff0000" stroke-width="1.15" stroke-dasharray="4.2 4.0"/>
<line x1="133.80" x2="133.80" y1="26.30" y2="263.40" stroke="#1f9a1f" stroke-width="1.15" stroke-dasharray="4.2 4.0"/>
<line x1="235.00" x2="235.00" y1="26.30" y2="263.40" stroke="#1f9a1f" stroke-width="1.15" stroke-dasharray="4.2 4.0"/>
<line x1="489.10" x2="489.10" y1="25.90" y2="246.30" stroke="#1f9a1f" stroke-width="1.15" stroke-dasharray="4.2 4.0"/>
<line x1="581.20" x2="581.20" y1="25.90" y2="246.30" stroke="#1f9a1f" stroke-width="1.15" stroke-dasharray="4.2 4.0"/>
<line x1="49.30" x2="49.30" y1="372.00" y2="525.30" stroke="#1f9a1f" stroke-width="1.15" stroke-dasharray="4.2 4.0"/>
<line x1="313.90" x2="313.90" y1="372.00" y2="525.30" stroke="#1f9a1f" stroke-width="1.15" stroke-dasharray="4.2 4.0"/>
<line x1="398.70" x2="398.70" y1="371.70" y2="525.50" stroke="#1f9a1f" stroke-width="1.15" stroke-dasharray="4.2 4.0"/>
<line x1="664.90" x2="664.90" y1="371.80" y2="525.50" stroke="#1f9a1f" stroke-width="1.15" stroke-dasharray="4.2 4.0"/>
<circle cx="229.0" cy="40.7" r="3.8" fill="#0000ff"/><circle cx="227.4" cy="47.6" r="3.8" fill="#0000ff"/><circle cx="229.0" cy="131.3" r="3.8" fill="#0000ff"/><circle cx="230.6" cy="206.9" r="3.8" fill="#0000ff"/><circle cx="229.2" cy="222.5" r="3.8" fill="#0000ff"/>
<circle cx="519.3" cy="88.4" r="3.8" fill="#0000ff"/>
<circle cx="98.2" cy="398.2" r="3.8" fill="#0000ff"/><circle cx="98.2" cy="400.6" r="3.8" fill="#0000ff"/>
<circle cx="631.9" cy="411.5" r="3.8" fill="#0000ff"/>
<polyline points="60.01,285.16 65.00,287.70 60.01,290.24" fill="none" stroke="#f8d21c" stroke-width="1.35" stroke-linecap="round" stroke-linejoin="round"/><line x1="155.80" y1="287.70" x2="85.70" y2="287.70" stroke="#f8d21c" stroke-width="1.5" stroke-opacity="0.85"/><polyline points="90.69,285.16 85.70,287.70 90.69,290.24" fill="none" stroke="#f8d21c" stroke-width="1.35" stroke-linecap="round" stroke-linejoin="round"/><polyline points="181.19,285.16 176.20,287.70 181.19,290.24" fill="none" stroke="#f8d21c" stroke-width="1.35" stroke-linecap="round" stroke-linejoin="round"/><line x1="304.60" y1="287.70" x2="256.80" y2="287.70" stroke="#f8d21c" stroke-width="1.5" stroke-opacity="0.85"/><polyline points="261.79,285.16 256.80,287.70 261.79,290.24" fill="none" stroke="#f8d21c" stroke-width="1.35" stroke-linecap="round" stroke-linejoin="round"/><text x="57.60" y="283.30" class="g">VCX3B</text><text x="94.00" y="297.30" class="g">KAL1</text><text x="173.60" y="283.30" class="g gr">FAM9A</text><text x="275.50" y="283.30" class="g gr">FAM9B</text><polyline points="454.61,274.76 459.60,277.30 454.61,279.84" fill="none" stroke="#f8d21c" stroke-width="1.35" stroke-linecap="round" stroke-linejoin="round"/><polyline points="459.51,274.76 464.50,277.30 459.51,279.84" fill="none" stroke="#f8d21c" stroke-width="1.35" stroke-linecap="round" stroke-linejoin="round"/><polyline points="462.21,274.76 467.20,277.30 462.21,279.84" fill="none" stroke="#f8d21c" stroke-width="1.35" stroke-linecap="round" stroke-linejoin="round"/><polyline points="464.91,274.76 469.90,277.30 464.91,279.84" fill="none" stroke="#f8d21c" stroke-width="1.35" stroke-linecap="round" stroke-linejoin="round"/><polyline points="494.09,274.76 489.10,277.30 494.09,279.84" fill="none" stroke="#f8d21c" stroke-width="1.35" stroke-linecap="round" stroke-linejoin="round"/><line x1="589.30" y1="277.30" x2="582.10" y2="277.30" stroke="#f8d21c" stroke-width="1.5" stroke-opacity="0.85"/><polyline points="587.09,274.76 582.10,277.30 587.09,279.84" fill="none" stroke="#f8d21c" stroke-width="1.35" stroke-linecap="round" stroke-linejoin="round"/><line x1="617.10" y1="277.30" x2="646.30" y2="277.30" stroke="#f8d21c" stroke-width="1.5" stroke-opacity="0.85"/><polyline points="641.31,274.76 646.30,277.30 641.31,279.84" fill="none" stroke="#f8d21c" stroke-width="1.35" stroke-linecap="round" stroke-linejoin="round"/><line x1="503.50" y1="277.30" x2="489.30" y2="277.30" stroke="#ff0000" stroke-width="1.2"/><polyline points="493.28,275.00 489.30,277.30 493.28,279.60" fill="none" stroke="#ff0000" stroke-width="1.1" stroke-linecap="round" stroke-linejoin="round"/><line x1="475.00" y1="271.10" x2="458.20" y2="281.30" stroke="#1a1a1a" stroke-width="1.25"/><line x1="468.40" y1="276.90" x2="485.90" y2="286.40" stroke="#1a1a1a" stroke-width="1.25"/><text x="419.70" y="275.40" class="g">MAGEB2</text><text x="462.10" y="268.90" class="g">MAGEB4</text><text x="433.90" y="288.60" class="g">MAGEB3</text><text x="476.70" y="293.70" class="g">MAGEB1</text><text x="504.60" y="280.70" class="g gr">NR0B1</text><text x="563.70" y="287.00" class="g">CXorf21</text><text x="632.30" y="273.90" class="g">GK</text><polyline points="71.11,568.96 76.10,571.50 71.11,574.04" fill="none" stroke="#f8d21c" stroke-width="1.35" stroke-linecap="round" stroke-linejoin="round"/><polyline points="83.81,568.96 88.80,571.50 83.81,574.04" fill="none" stroke="#f8d21c" stroke-width="1.35" stroke-linecap="round" stroke-linejoin="round"/><polyline points="108.09,568.96 103.10,571.50 108.09,574.04" fill="none" stroke="#f8d21c" stroke-width="1.35" stroke-linecap="round" stroke-linejoin="round"/><polyline points="105.81,568.96 110.80,571.50 105.81,574.04" fill="none" stroke="#f8d21c" stroke-width="1.35" stroke-linecap="round" stroke-linejoin="round"/><polyline points="128.09,568.96 123.10,571.50 128.09,574.04" fill="none" stroke="#f8d21c" stroke-width="1.35" stroke-linecap="round" stroke-linejoin="round"/><line x1="109.80" y1="570.40" x2="128.20" y2="580.20" stroke="#1a1a1a" stroke-width="1.25"/><text x="66.70" y="565.40" class="g">UBQLN2</text><text x="130.70" y="571.90" class="g gr">ZXDA</text><text x="33.40" y="583.30" class="g">AL353698.1</text><text x="85.70" y="584.80" class="g">SPIN2B</text><text x="123.90" y="589.50" class="g">FAAH2</text><polyline points="256.09,568.96 251.10,571.50 256.09,574.04" fill="none" stroke="#f8d21c" stroke-width="1.35" stroke-linecap="round" stroke-linejoin="round"/><polyline points="270.79,568.96 265.80,571.50 270.79,574.04" fill="none" stroke="#f8d21c" stroke-width="1.35" stroke-linecap="round" stroke-linejoin="round"/><polyline points="288.39,568.96 283.40,571.50 288.39,574.04" fill="none" stroke="#f8d21c" stroke-width="1.35" stroke-linecap="round" stroke-linejoin="round"/><polyline points="304.09,568.96 299.10,571.50 304.09,574.04" fill="none" stroke="#f8d21c" stroke-width="1.35" stroke-linecap="round" stroke-linejoin="round"/><polyline points="316.39,568.96 311.40,571.50 316.39,574.04" fill="none" stroke="#f8d21c" stroke-width="1.35" stroke-linecap="round" stroke-linejoin="round"/><polyline points="313.11,568.96 318.10,571.50 313.11,574.04" fill="none" stroke="#f8d21c" stroke-width="1.35" stroke-linecap="round" stroke-linejoin="round"/><line x1="254.20" y1="563.90" x2="265.80" y2="571.50" stroke="#1a1a1a" stroke-width="1.25"/><line x1="300.10" y1="570.80" x2="293.00" y2="576.60" stroke="#1a1a1a" stroke-width="1.25"/><text x="234.10" y="561.70" class="g">ASB12</text><text x="267.20" y="567.00" class="g">ZC4H2</text><text x="304.00" y="567.00" class="g">VSIG4</text><text x="208.40" y="579.30" class="g">ARHGEF9</text><text x="277.10" y="584.80" class="g">LAS1L</text><text x="306.50" y="583.80" class="g">HEPH</text><polyline points="53.49,599.56 48.50,602.10 53.49,604.64" fill="none" stroke="#f8d21c" stroke-width="1.35" stroke-linecap="round" stroke-linejoin="round"/><polyline points="76.81,599.56 81.80,602.10 76.81,604.64" fill="none" stroke="#f8d21c" stroke-width="1.35" stroke-linecap="round" stroke-linejoin="round"/><polyline points="103.99,599.56 99.00,602.10 103.99,604.64" fill="none" stroke="#f8d21c" stroke-width="1.35" stroke-linecap="round" stroke-linejoin="round"/><polyline points="107.49,599.56 102.50,602.10 107.49,604.64" fill="none" stroke="#f8d21c" stroke-width="1.35" stroke-linecap="round" stroke-linejoin="round"/><polyline points="110.91,599.56 115.90,602.10 110.91,604.64" fill="none" stroke="#f8d21c" stroke-width="1.35" stroke-linecap="round" stroke-linejoin="round"/><text x="30.50" y="597.00" class="g gr">ALAS2</text><text x="57.10" y="612.80" class="g gr">KLF8</text><text x="83.00" y="597.00" class="g">SPIN3</text><text x="121.30" y="601.50" class="g gr">ZXDB</text><text x="92.70" y="613.80" class="g">SPIN2A</text><polyline points="247.89,599.56 242.90,602.10 247.89,604.64" fill="none" stroke="#f8d21c" stroke-width="1.35" stroke-linecap="round" stroke-linejoin="round"/><polyline points="269.99,599.56 265.00,602.10 269.99,604.64" fill="none" stroke="#f8d21c" stroke-width="1.35" stroke-linecap="round" stroke-linejoin="round"/><polyline points="271.79,599.56 266.80,602.10 271.79,604.64" fill="none" stroke="#f8d21c" stroke-width="1.35" stroke-linecap="round" stroke-linejoin="round"/><polyline points="294.01,599.56 299.00,602.10 294.01,604.64" fill="none" stroke="#f8d21c" stroke-width="1.35" stroke-linecap="round" stroke-linejoin="round"/><polyline points="299.21,599.56 304.20,602.10 299.21,604.64" fill="none" stroke="#f8d21c" stroke-width="1.35" stroke-linecap="round" stroke-linejoin="round"/><line x1="232.30" y1="600.70" x2="242.90" y2="602.10" stroke="#1a1a1a" stroke-width="1.25"/><line x1="258.20" y1="606.20" x2="265.00" y2="602.10" stroke="#1a1a1a" stroke-width="1.25"/><line x1="311.40" y1="601.10" x2="302.20" y2="602.10" stroke="#1a1a1a" stroke-width="1.25"/><text x="205.50" y="602.10" class="g">SPIN4</text><text x="268.90" y="597.00" class="g">MTMR8</text><text x="311.80" y="602.10" class="g">MSN</text><text x="234.10" y="615.40" class="g">AMER1</text><text x="273.80" y="615.40" class="g">ZC3H12B</text><polyline points="391.61,568.86 396.60,571.40 391.61,573.94" fill="none" stroke="#f8d21c" stroke-width="1.35" stroke-linecap="round" stroke-linejoin="round"/><polyline points="403.01,568.86 408.00,571.40 403.01,573.94" fill="none" stroke="#f8d21c" stroke-width="1.35" stroke-linecap="round" stroke-linejoin="round"/><polyline points="425.59,568.86 420.60,571.40 425.59,573.94" fill="none" stroke="#f8d21c" stroke-width="1.35" stroke-linecap="round" stroke-linejoin="round"/><polyline points="422.31,568.86 427.30,571.40 422.31,573.94" fill="none" stroke="#f8d21c" stroke-width="1.35" stroke-linecap="round" stroke-linejoin="round"/><polyline points="443.69,568.86 438.70,571.40 443.69,573.94" fill="none" stroke="#f8d21c" stroke-width="1.35" stroke-linecap="round" stroke-linejoin="round"/><line x1="450.40" y1="571.40" x2="439.00" y2="571.40" stroke="#1a1a1a" stroke-width="1.1"/><line x1="420.60" y1="571.30" x2="434.30" y2="558.70" stroke="#1a1a1a" stroke-width="1.25"/><line x1="425.90" y1="570.90" x2="442.70" y2="582.10" stroke="#1a1a1a" stroke-width="1.25"/><text x="424.50" y="556.50" class="g">SPIN2B</text><text x="383.70" y="566.10" class="g">UBQLN2</text><text x="453.40" y="574.40" class="g">ZXDA</text><text x="383.00" y="581.90" class="g">AL353698.1</text><text x="435.50" y="591.00" class="g">FAAH2</text><polyline points="556.39,568.86 551.40,571.40 556.39,573.94" fill="none" stroke="#f8d21c" stroke-width="1.35" stroke-linecap="round" stroke-linejoin="round"/><polyline points="569.99,568.86 565.00,571.40 569.99,573.94" fill="none" stroke="#f8d21c" stroke-width="1.35" stroke-linecap="round" stroke-linejoin="round"/><polyline points="584.79,568.86 579.80,571.40 584.79,573.94" fill="none" stroke="#f8d21c" stroke-width="1.35" stroke-linecap="round" stroke-linejoin="round"/><polyline points="599.59,568.86 594.60,571.40 599.59,573.94" fill="none" stroke="#f8d21c" stroke-width="1.35" stroke-linecap="round" stroke-linejoin="round"/><polyline points="610.19,568.86 605.20,571.40 610.19,573.94" fill="none" stroke="#f8d21c" stroke-width="1.35" stroke-linecap="round" stroke-linejoin="round"/><polyline points="623.69,568.86 618.70,571.40 623.69,573.94" fill="none" stroke="#f8d21c" stroke-width="1.35" stroke-linecap="round" stroke-linejoin="round"/><polyline points="639.81,568.86 644.80,571.40 639.81,573.94" fill="none" stroke="#f8d21c" stroke-width="1.35" stroke-linecap="round" stroke-linejoin="round"/><line x1="660.00" y1="571.40" x2="651.80" y2="571.40" stroke="#f8d21c" stroke-width="1.5" stroke-opacity="0.85"/><polyline points="656.79,568.86 651.80,571.40 656.79,573.94" fill="none" stroke="#f8d21c" stroke-width="1.35" stroke-linecap="round" stroke-linejoin="round"/><polyline points="662.41,568.86 667.40,571.40 662.41,573.94" fill="none" stroke="#f8d21c" stroke-width="1.35" stroke-linecap="round" stroke-linejoin="round"/><line x1="558.00" y1="564.00" x2="565.00" y2="571.50" stroke="#1a1a1a" stroke-width="1.25"/><line x1="614.10" y1="561.50" x2="606.00" y2="571.50" stroke="#1a1a1a" stroke-width="1.25"/><line x1="620.00" y1="571.50" x2="617.90" y2="581.00" stroke="#1a1a1a" stroke-width="1.25"/><line x1="656.00" y1="563.60" x2="656.00" y2="571.50" stroke="#1a1a1a" stroke-width="1.25"/><text x="542.30" y="562.50" class="g">ASB12</text><text x="573.70" y="566.10" class="g">LAS1L</text><text x="604.40" y="559.70" class="g">VSIG4</text><text x="641.00" y="559.70" class="g">OPHN1</text><text x="508.70" y="577.60" class="g">ARHGEF9</text><text x="563.50" y="582.00" class="g">ZC4H2</text><text x="626.60" y="575.20" class="g gr">AR</text><text x="645.00" y="582.40" class="g">STARD8</text><text x="602.90" y="590.40" class="g">EDA2R</text><polyline points="396.41,599.26 401.40,601.80 396.41,604.34" fill="none" stroke="#f8d21c" stroke-width="1.35" stroke-linecap="round" stroke-linejoin="round"/><polyline points="421.79,599.26 416.80,601.80 421.79,604.34" fill="none" stroke="#f8d21c" stroke-width="1.35" stroke-linecap="round" stroke-linejoin="round"/><polyline points="425.49,599.26 420.50,601.80 425.49,604.34" fill="none" stroke="#f8d21c" stroke-width="1.35" stroke-linecap="round" stroke-linejoin="round"/><polyline points="426.71,599.26 431.70,601.80 426.71,604.34" fill="none" stroke="#f8d21c" stroke-width="1.35" stroke-linecap="round" stroke-linejoin="round"/><text x="398.20" y="598.60" class="g">SPIN3</text><text x="435.50" y="601.50" class="g">ZXDB</text><text x="383.00" y="612.90" class="g">KLF8</text><text x="411.00" y="614.30" class="g">SPIN2A</text><polyline points="549.19,599.26 544.20,601.80 549.19,604.34" fill="none" stroke="#f8d21c" stroke-width="1.35" stroke-linecap="round" stroke-linejoin="round"/><polyline points="568.69,599.26 563.70,601.80 568.69,604.34" fill="none" stroke="#f8d21c" stroke-width="1.35" stroke-linecap="round" stroke-linejoin="round"/><polyline points="589.51,599.26 594.50,601.80 589.51,604.34" fill="none" stroke="#f8d21c" stroke-width="1.35" stroke-linecap="round" stroke-linejoin="round"/><polyline points="594.71,599.26 599.70,601.80 594.71,604.34" fill="none" stroke="#f8d21c" stroke-width="1.35" stroke-linecap="round" stroke-linejoin="round"/><polyline points="606.51,599.26 611.50,601.80 606.51,604.34" fill="none" stroke="#f8d21c" stroke-width="1.35" stroke-linecap="round" stroke-linejoin="round"/><polyline points="660.01,599.26 665.00,601.80 660.01,604.34" fill="none" stroke="#f8d21c" stroke-width="1.35" stroke-linecap="round" stroke-linejoin="round"/><polyline points="665.81,599.26 670.80,601.80 665.81,604.34" fill="none" stroke="#f8d21c" stroke-width="1.35" stroke-linecap="round" stroke-linejoin="round"/><line x1="555.90" y1="595.80" x2="563.70" y2="601.70" stroke="#1a1a1a" stroke-width="1.25"/><text x="534.10" y="595.10" class="g">AMER1</text><text x="518.00" y="610.10" class="g">SPIN4</text><text x="569.40" y="597.80" class="g">ZC3H12B</text><text x="615.60" y="600.60" class="g">HEPH</text><text x="646.70" y="597.80" class="g">YIPF6</text><text x="562.00" y="611.60" class="g">MTMR8</text><text x="596.50" y="613.70" class="g">MSN</text><text x="649.90" y="613.30" class="g">EFNB1</text>
<text x="226.60" y="35.70" class="bl">Hcrit</text><text x="211.50" y="58.10" class="bl">Hgb</text><text x="212.80" y="141.70" class="bl">RBC</text><text x="222.50" y="201.60" class="bl">nBMD</text><text x="225.20" y="218.00" class="bl">Fat%</text><text x="514.40" y="84.00" class="bl">Height</text><text x="90.30" y="394.80" class="bl">Hgb</text><text x="89.00" y="410.90" class="bl">Hcrit</text><text x="616.30" y="422.00" class="bl">Fat%</text><path d="M225.2 136.5h0M229.5 137.5h0M231.9 136.5h0" stroke="#808080" stroke-opacity="0.7" stroke-width="3.3" stroke-linecap="round"/>
<text x="30.20" y="267.10" text-anchor="end" class="tk">0</text>
<text x="30.20" y="217.90" text-anchor="end" class="tk">10</text>
<text x="30.20" y="168.70" text-anchor="end" class="tk">20</text>
<text x="30.20" y="119.50" text-anchor="end" class="tk">30</text>
<text x="30.20" y="70.30" text-anchor="end" class="tk">40</text>
<text x="30.20" y="21.10" text-anchor="end" class="tk">50</text>
<text x="52.30" y="312.90" text-anchor="middle" class="tk">8.4 Mb</text>
<text x="121.30" y="312.90" text-anchor="middle" class="tk">8.6 Mb</text>
<text x="190.30" y="312.90" text-anchor="middle" class="tk">8.8 Mb</text>
<text x="259.30" y="312.90" text-anchor="middle" class="tk">9.0 Mb</text>
<text x="189.40" y="327.40" text-anchor="middle" class="tk">X-chromosome position</text>
<text x="35.00" y="7.30" class="tk">Region 1</text>
<text transform="translate(8.00,152.20) rotate(-90)" text-anchor="middle" class="tk">&#8722;log<tspan class="sub" dy="2.5">10</tspan><tspan dy="-2.5">(P</tspan><tspan class="sub" dy="2.5">Het</tspan><tspan dy="-2.5">)</tspan></text>
<text x="380.50" y="250.00" text-anchor="end" class="tk">0</text>
<text x="380.50" y="146.00" text-anchor="end" class="tk">5</text>
<text x="380.50" y="42.00" text-anchor="end" class="tk">10</text>
<text x="444.97" y="312.70" text-anchor="middle" class="tk">30.2 Mb</text>
<text x="518.11" y="312.70" text-anchor="middle" class="tk">30.4 Mb</text>
<text x="591.25" y="312.70" text-anchor="middle" class="tk">30.6 Mb</text>
<text x="664.39" y="312.70" text-anchor="middle" class="tk">30.8 Mb</text>
<text x="534.50" y="327.20" text-anchor="middle" class="tk">X-chromosome position</text>
<text x="385.60" y="7.30" class="tk">Region 2</text>
<text transform="translate(361.00,155.60) rotate(-90)" text-anchor="middle" class="tk">&#8722;log<tspan class="sub" dy="2.5">10</tspan><tspan dy="-2.5">(P</tspan><tspan class="sub" dy="2.5">Het</tspan><tspan dy="-2.5">)</tspan></text>
<text x="25.00" y="529.00" text-anchor="end" class="tk">0</text>
<text x="25.00" y="467.80" text-anchor="end" class="tk">4</text>
<text x="25.00" y="406.60" text-anchor="end" class="tk">8</text>
<text x="47.60" y="658.10" text-anchor="middle" class="tk">55.0 Mb</text>
<text x="112.07" y="658.10" text-anchor="middle" class="tk">57.5 Mb</text>
<text x="176.55" y="658.10" text-anchor="middle" class="tk">60.0 Mb</text>
<text x="241.02" y="658.10" text-anchor="middle" class="tk">62.5 Mb</text>
<text x="305.50" y="658.10" text-anchor="middle" class="tk">65.0 Mb</text>
<text x="155.50" y="672.20" text-anchor="middle" class="tk">X-chromosome position</text>
<text x="35.10" y="353.40" class="tk">Region 3</text>
<text transform="translate(9.50,503.40) rotate(-90)" text-anchor="middle" class="tk">&#8722;log<tspan class="sub" dy="2.5">10</tspan><tspan dy="-2.5">(P</tspan><tspan class="sub" dy="2.5">Het</tspan><tspan dy="-2.5">)</tspan></text>
<text x="375.40" y="529.20" text-anchor="end" class="tk">0</text>
<text x="375.40" y="467.60" text-anchor="end" class="tk">4</text>
<text x="375.40" y="406.00" text-anchor="end" class="tk">8</text>
<text x="428.50" y="657.80" text-anchor="middle" class="tk">57.5 Mb</text>
<text x="485.88" y="657.80" text-anchor="middle" class="tk">60.0 Mb</text>
<text x="543.25" y="657.80" text-anchor="middle" class="tk">62.5 Mb</text>
<text x="600.62" y="657.80" text-anchor="middle" class="tk">65.0 Mb</text>
<text x="658.00" y="657.80" text-anchor="middle" class="tk">67.5 Mb</text>
<text x="531.20" y="671.70" text-anchor="middle" class="tk">X-chromosome position</text>
<text x="385.20" y="353.40" class="tk">Region 4</text>
<text transform="translate(361.00,502.20) rotate(-90)" text-anchor="middle" class="tk">&#8722;log<tspan class="sub" dy="2.5">10</tspan><tspan dy="-2.5">(P</tspan><tspan class="sub" dy="2.5">Het</tspan><tspan dy="-2.5">)</tspan></text>
</svg></body></html>
